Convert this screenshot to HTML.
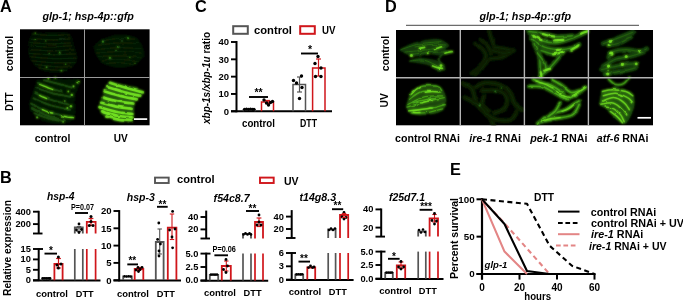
<!DOCTYPE html>
<html><head><meta charset="utf-8"><title>Figure</title>
<style>
html,body{margin:0;padding:0;background:#fff;}
svg{display:block;font-family:"Liberation Sans",Arial,sans-serif;}
</style></head><body>
<svg width="683" height="300" viewBox="0 0 683 300">
<defs>
<filter id="b1" x="-5%" y="-5%" width="110%" height="110%"><feTurbulence type="fractalNoise" baseFrequency="0.12" numOctaves="2" seed="3" result="n"/><feDisplacementMap in="SourceGraphic" in2="n" scale="2.5" xChannelSelector="R" yChannelSelector="G" result="d"/><feGaussianBlur in="d" stdDeviation="0.8"/></filter>
<filter id="b0" x="-5%" y="-5%" width="110%" height="110%"><feTurbulence type="fractalNoise" baseFrequency="0.12" numOctaves="2" seed="3" result="n"/><feDisplacementMap in="SourceGraphic" in2="n" scale="2.5" xChannelSelector="R" yChannelSelector="G" result="d"/><feGaussianBlur in="d" stdDeviation="0.4"/></filter>
</defs>
<rect x="0" y="0" width="683" height="300" fill="#fff"/>
<text x="0" y="11.8" font-size="16.3" text-anchor="start" font-weight="bold" font-style="normal" fill="#000" >A</text>
<text x="88.2" y="19.9" font-size="10.6" text-anchor="middle" font-weight="bold" font-style="italic" fill="#000" textLength="91.5" lengthAdjust="spacingAndGlyphs" >glp-1; hsp-4p::gfp</text>
<rect x="20" y="29.3" width="129.6" height="96" fill="#000"/>
<clipPath id="clipA"><rect x="20" y="29.3" width="129.6" height="96"/></clipPath>
<defs><g id="gA">
<path d="M30.1 34.8 C33.3 34.4 42.9 32.3 49.2 32.2 C55.6 32.1 64.0 31.3 68.3 33.9 C72.6 36.5 73.8 43.5 75.2 47.8 C76.7 52.2 77.8 56.5 77.0 60.0 C76.1 63.4 74.1 66.5 70.0 68.6 C66.0 70.8 57.9 73.0 52.7 73.0 C47.5 73.0 42.6 71.1 38.8 68.6 C35.1 66.2 32.0 62.0 30.1 58.2 C28.3 54.5 28.0 48.1 27.5 46.1 Z" fill="#051202" opacity="0.9"/>
<path d="M31.9 33.9 C34.9 34.2 44.0 35.3 50.1 35.4 C56.2 35.6 65.3 34.9 68.3 34.8" fill="none" stroke="#12320a" stroke-width="1.0" stroke-linecap="round" stroke-linejoin="round" opacity="0.9"/>
<path d="M31.0 38.3 C34.3 38.5 44.0 39.6 50.5 39.8 C57.0 39.9 66.8 39.2 70.0 39.1" fill="none" stroke="#12320a" stroke-width="1.0" stroke-linecap="round" stroke-linejoin="round" opacity="0.9"/>
<path d="M30.1 42.6 C33.5 42.8 43.4 43.8 50.1 43.8 C56.7 43.9 66.7 43.1 70.0 43.0" fill="none" stroke="#12320a" stroke-width="1.0" stroke-linecap="round" stroke-linejoin="round" opacity="0.9"/>
<path d="M30.1 46.1 C33.6 46.2 44.0 47.0 51.0 46.9 C57.9 46.9 68.3 45.9 71.8 45.7" fill="none" stroke="#12320a" stroke-width="1.0" stroke-linecap="round" stroke-linejoin="round" opacity="0.9"/>
<path d="M29.3 49.6 C33.0 49.8 44.0 50.7 51.4 50.8 C58.8 50.8 69.8 50.0 73.5 49.9" fill="none" stroke="#12320a" stroke-width="1.0" stroke-linecap="round" stroke-linejoin="round" opacity="0.9"/>
<path d="M29.3 53.4 C33.1 53.6 44.6 54.6 52.3 54.7 C59.9 54.8 71.4 54.0 75.2 53.9" fill="none" stroke="#12320a" stroke-width="1.0" stroke-linecap="round" stroke-linejoin="round" opacity="0.9"/>
<path d="M30.1 56.8 C34.0 57.1 45.5 58.3 53.1 58.6 C60.8 58.8 72.3 58.3 76.1 58.2" fill="none" stroke="#12320a" stroke-width="1.0" stroke-linecap="round" stroke-linejoin="round" opacity="0.9"/>
<path d="M31.9 60.8 C35.5 61.1 46.3 62.4 53.6 62.7 C60.8 63.0 71.6 62.6 75.2 62.6" fill="none" stroke="#12320a" stroke-width="1.0" stroke-linecap="round" stroke-linejoin="round" opacity="0.9"/>
<path d="M35.3 64.3 C38.4 64.7 47.5 66.2 53.6 66.6 C59.6 67.1 68.7 66.9 71.8 66.9" fill="none" stroke="#12320a" stroke-width="1.0" stroke-linecap="round" stroke-linejoin="round" opacity="0.9"/>
<path d="M38.8 67.8 C41.3 68.2 48.6 69.7 53.6 70.1 C58.5 70.5 65.8 70.3 68.3 70.4" fill="none" stroke="#12320a" stroke-width="1.0" stroke-linecap="round" stroke-linejoin="round" opacity="0.9"/>
<circle cx="35.3" cy="39.1" r="1.0" fill="#378a14"/>
<circle cx="35.3" cy="33.1" r="0.8" fill="#378a14"/>
<circle cx="59.6" cy="53.4" r="0.9" fill="#378a14"/>
<circle cx="46.6" cy="67.2" r="0.9" fill="#378a14"/>
<circle cx="61.4" cy="70.7" r="1.0" fill="#378a14"/>
<circle cx="45.8" cy="40.9" r="0.7" fill="#378a14"/>
<circle cx="65.7" cy="64.3" r="0.7" fill="#378a14"/>
<circle cx="49.2" cy="53.4" r="0.6" fill="#378a14"/>
<path d="M93.4 46.1 C94.9 44.9 98.0 41.0 102.1 39.1 C106.1 37.3 112.5 35.2 117.7 34.8 C122.9 34.4 129.3 34.7 133.3 36.5 C137.4 38.4 140.2 42.9 142.0 46.1 C143.7 49.3 144.9 52.6 143.7 55.6 C142.6 58.7 139.4 62.3 135.0 64.3 C130.7 66.3 123.2 68.1 117.7 67.8 C112.2 67.5 105.8 65.0 102.1 62.6 C98.3 60.1 96.3 54.6 95.1 53.0 Z" fill="#061503" opacity="0.9"/>
<path d="M102.1 40.9 C104.7 40.5 112.5 38.9 117.7 38.6 C122.9 38.3 130.7 39.1 133.3 39.1" fill="none" stroke="#10300a" stroke-width="0.9" stroke-linecap="round" stroke-linejoin="round" opacity="0.9"/>
<path d="M98.6 45.2 C101.9 44.8 111.9 43.2 118.6 43.0 C125.2 42.7 135.2 43.4 138.5 43.5" fill="none" stroke="#10300a" stroke-width="0.9" stroke-linecap="round" stroke-linejoin="round" opacity="0.9"/>
<path d="M96.9 49.6 C100.6 49.2 111.6 47.9 119.0 47.7 C126.4 47.6 137.4 48.5 141.1 48.7" fill="none" stroke="#10300a" stroke-width="0.9" stroke-linecap="round" stroke-linejoin="round" opacity="0.9"/>
<path d="M96.9 53.0 C100.6 52.8 111.9 51.6 119.4 51.6 C126.9 51.6 138.2 52.8 142.0 53.0" fill="none" stroke="#10300a" stroke-width="0.9" stroke-linecap="round" stroke-linejoin="round" opacity="0.9"/>
<path d="M98.6 56.5 C102.2 56.4 112.8 55.6 119.9 55.8 C126.9 56.0 137.6 57.5 141.1 57.9" fill="none" stroke="#10300a" stroke-width="0.9" stroke-linecap="round" stroke-linejoin="round" opacity="0.9"/>
<path d="M102.1 60.0 C105.1 59.9 114.2 59.1 120.3 59.4 C126.4 59.7 135.5 61.3 138.5 61.7" fill="none" stroke="#10300a" stroke-width="0.9" stroke-linecap="round" stroke-linejoin="round" opacity="0.9"/>
<path d="M107.3 63.4 C109.5 63.3 116.0 62.5 120.3 62.7 C124.6 63.0 131.1 64.5 133.3 64.8" fill="none" stroke="#10300a" stroke-width="0.9" stroke-linecap="round" stroke-linejoin="round" opacity="0.9"/>
<circle cx="102.9" cy="41.7" r="1.1" fill="#378a14"/>
<circle cx="128.1" cy="38.3" r="1.0" fill="#378a14"/>
<circle cx="109.9" cy="57.9" r="1.1" fill="#378a14"/>
<circle cx="117.7" cy="46.9" r="0.8" fill="#378a14"/>
<circle cx="122.0" cy="40.9" r="0.7" fill="#378a14"/>
<circle cx="129.8" cy="57.4" r="0.7" fill="#378a14"/>
<circle cx="135.0" cy="63.4" r="0.6" fill="#378a14"/>
<circle cx="116.0" cy="50.4" r="0.7" fill="#378a14"/>
<path d="M37.1 80.2 C40.6 79.9 51.0 78.5 57.9 78.5 C64.8 78.5 75.8 77.3 78.7 80.2 C81.6 83.1 75.8 90.9 75.2 95.8 C74.7 100.7 76.1 105.4 75.2 109.7 C74.4 114.0 74.4 119.7 70.0 121.8 C65.7 124.0 55.6 124.4 49.2 122.7 C42.9 121.0 35.1 115.0 31.9 111.4 C28.7 107.8 29.7 104.8 30.1 101.0 C30.6 97.3 33.8 90.9 34.5 88.9 Z" fill="#061603" opacity="0.9"/>
<path d="M37.9 82.8 C39.8 83.7 45.3 86.6 49.2 88.0 C53.1 89.5 59.3 90.9 61.4 91.5" fill="none" stroke="#1f540d" stroke-width="2.0" stroke-linecap="round" stroke-linejoin="round" opacity="0.9"/>
<path d="M35.3 93.2 C37.7 94.2 43.7 97.4 49.2 99.3 C54.7 101.2 65.1 103.6 68.3 104.5" fill="none" stroke="#1f540d" stroke-width="2.0" stroke-linecap="round" stroke-linejoin="round" opacity="0.9"/>
<path d="M31.0 103.6 C34.0 105.1 42.1 110.0 49.2 112.3 C56.3 114.6 69.5 116.6 73.5 117.5" fill="none" stroke="#1f540d" stroke-width="2.0" stroke-linecap="round" stroke-linejoin="round" opacity="0.9"/>
<path d="M34.5 113.2 C36.4 113.9 41.9 116.3 45.8 117.5 C49.7 118.7 55.9 120.0 57.9 120.4" fill="none" stroke="#1f540d" stroke-width="2.0" stroke-linecap="round" stroke-linejoin="round" opacity="0.9"/>
<path d="M44.0 80.2 C46.3 80.8 53.0 82.4 57.9 83.7 C62.8 85.0 70.9 87.3 73.5 88.0" fill="none" stroke="#1f540d" stroke-width="2.0" stroke-linecap="round" stroke-linejoin="round" opacity="0.9"/>
<path d="M37.1 88.0 C39.7 88.9 47.2 91.8 52.7 93.2 C58.2 94.7 67.1 96.1 70.0 96.7" fill="none" stroke="#1f540d" stroke-width="2.0" stroke-linecap="round" stroke-linejoin="round" opacity="0.9"/>
<path d="M33.6 98.4 C36.5 99.6 44.9 103.5 51.0 105.4 C57.0 107.2 66.9 109.0 70.0 109.7" fill="none" stroke="#1f540d" stroke-width="2.0" stroke-linecap="round" stroke-linejoin="round" opacity="0.9"/>
<path d="M31.9 108.0 C34.5 109.3 42.0 113.7 47.5 115.8 C53.0 117.8 61.9 119.7 64.8 120.4" fill="none" stroke="#1f540d" stroke-width="2.0" stroke-linecap="round" stroke-linejoin="round" opacity="0.9"/>
<path d="M39.7 84.5 C40.8 85.0 44.5 86.3 46.6 87.1 C48.8 88.0 51.7 89.3 52.7 89.7" fill="none" stroke="#78ee22" stroke-width="1.3" stroke-linecap="round" stroke-linejoin="round" opacity="1"/>
<path d="M39.7 95.5 C40.3 95.8 42.0 96.7 43.2 97.2 C44.3 97.7 46.0 98.4 46.6 98.6" fill="none" stroke="#78ee22" stroke-width="1.3" stroke-linecap="round" stroke-linejoin="round" opacity="1"/>
<path d="M42.3 109.7 C43.2 110.0 45.8 111.2 47.5 111.8 C49.2 112.4 51.8 112.9 52.7 113.2" fill="none" stroke="#78ee22" stroke-width="1.3" stroke-linecap="round" stroke-linejoin="round" opacity="1"/>
<path d="M61.4 115.9 C62.4 116.1 65.4 116.9 67.4 117.2 C69.5 117.4 72.5 117.6 73.5 117.7" fill="none" stroke="#78ee22" stroke-width="1.3" stroke-linecap="round" stroke-linejoin="round" opacity="1"/>
<circle cx="77.8" cy="82.3" r="1.3" fill="#62cf1c"/>
<circle cx="73.5" cy="86.3" r="1.0" fill="#62cf1c"/>
<circle cx="71.8" cy="94.9" r="1.2" fill="#62cf1c"/>
<circle cx="70.9" cy="106.2" r="1.2" fill="#62cf1c"/>
<circle cx="67.4" cy="108.0" r="1.0" fill="#62cf1c"/>
<circle cx="37.1" cy="117.5" r="1.0" fill="#62cf1c"/>
<circle cx="63.1" cy="121.8" r="0.9" fill="#62cf1c"/>
<circle cx="48.4" cy="78.5" r="0.9" fill="#62cf1c"/>
<circle cx="55.3" cy="77.6" r="0.9" fill="#62cf1c"/>
<circle cx="68.3" cy="91.5" r="0.9" fill="#62cf1c"/>
<circle cx="64.8" cy="101.0" r="0.8" fill="#62cf1c"/>
<path d="M109.0 81.9 C111.9 82.5 120.7 83.8 126.4 85.4 C132.0 87.0 141.4 88.9 142.8 91.5 C144.3 94.1 136.8 96.5 135.0 101.0 C133.3 105.5 135.3 115.0 132.4 118.4 C129.5 121.7 122.5 121.4 117.7 121.0 C112.9 120.5 106.9 118.1 103.8 115.8 C100.8 113.5 99.6 110.7 99.5 107.1 C99.3 103.5 102.4 96.2 102.9 94.1 Z" fill="#18420a" opacity="0.9"/>
<path d="M109.9 82.8 C112.6 83.7 120.9 86.4 126.4 88.0 C131.9 89.6 140.1 91.6 142.8 92.3" fill="none" stroke="#78ee22" stroke-width="2.7" stroke-linecap="round" stroke-linejoin="round" opacity="1"/>
<path d="M107.3 87.1 C110.2 88.0 119.1 90.9 124.6 92.3 C130.1 93.8 137.6 95.2 140.2 95.8" fill="none" stroke="#78ee22" stroke-width="2.7" stroke-linecap="round" stroke-linejoin="round" opacity="1"/>
<path d="M104.7 91.5 C107.4 92.3 115.8 94.9 121.2 96.2 C126.5 97.5 134.2 98.8 136.8 99.3" fill="none" stroke="#78ee22" stroke-width="2.7" stroke-linecap="round" stroke-linejoin="round" opacity="1"/>
<path d="M102.9 97.6 C105.4 98.2 112.6 100.4 117.7 101.4 C122.8 102.4 130.7 103.2 133.3 103.6" fill="none" stroke="#78ee22" stroke-width="2.7" stroke-linecap="round" stroke-linejoin="round" opacity="1"/>
<path d="M101.2 102.8 C103.7 103.4 110.9 105.6 116.0 106.6 C121.0 107.6 129.0 108.5 131.6 108.8" fill="none" stroke="#78ee22" stroke-width="2.7" stroke-linecap="round" stroke-linejoin="round" opacity="1"/>
<path d="M99.5 107.1 C102.2 107.9 110.5 110.6 116.0 111.8 C121.5 112.9 129.7 113.7 132.4 114.0" fill="none" stroke="#78ee22" stroke-width="2.7" stroke-linecap="round" stroke-linejoin="round" opacity="1"/>
<path d="M102.1 111.4 C104.7 112.2 112.6 114.8 117.7 115.8 C122.8 116.8 130.0 117.2 132.4 117.5" fill="none" stroke="#78ee22" stroke-width="2.7" stroke-linecap="round" stroke-linejoin="round" opacity="1"/>
<path d="M106.4 116.6 C108.6 117.2 115.2 119.0 119.4 119.8 C123.6 120.5 129.5 120.8 131.6 121.0" fill="none" stroke="#78ee22" stroke-width="2.7" stroke-linecap="round" stroke-linejoin="round" opacity="1"/>
</g></defs><g clip-path="url(#clipA)"><use href="#gA" filter="url(#b1)"/><use href="#gA" filter="url(#b0)" opacity="0.5"/></g>
<line x1="84.5" y1="29.3" x2="84.5" y2="125.3" stroke="#9a9a9a" stroke-width="1" />
<line x1="20" y1="77.5" x2="149.5" y2="77.5" stroke="#9a9a9a" stroke-width="1" />
<line x1="134" y1="119.1" x2="147.2" y2="119.1" stroke="#fff" stroke-width="1.7" />
<text x="12.6" y="53.6" font-size="10.6" text-anchor="middle" font-weight="bold" font-style="normal" fill="#000" textLength="35.3" lengthAdjust="spacingAndGlyphs" transform="rotate(-90 12.6 53.6)" >control</text>
<text x="12.9" y="101.8" font-size="10.8" text-anchor="middle" font-weight="bold" font-style="normal" fill="#000" textLength="18.6" lengthAdjust="spacingAndGlyphs" transform="rotate(-90 12.9 101.8)" >DTT</text>
<text x="52.6" y="141.8" font-size="10.6" text-anchor="middle" font-weight="bold" font-style="normal" fill="#000" textLength="35.7" lengthAdjust="spacingAndGlyphs" >control</text>
<text x="120.8" y="141.9" font-size="10.6" text-anchor="middle" font-weight="bold" font-style="normal" fill="#000" textLength="14" lengthAdjust="spacingAndGlyphs" >UV</text>
<text x="195" y="11.8" font-size="16.3" text-anchor="start" font-weight="bold" font-style="normal" fill="#000" >C</text>
<rect x="233.2" y="26.2" width="14.6" height="7.6" fill="none" stroke="#555555" stroke-width="2.0"/>
<text x="254" y="34" font-size="11.2" text-anchor="start" font-weight="bold" font-style="normal" fill="#000" textLength="38" lengthAdjust="spacingAndGlyphs" >control</text>
<rect x="300.2" y="26.2" width="14.6" height="7.6" fill="none" stroke="#d0161b" stroke-width="2.0"/>
<text x="322" y="34" font-size="11.2" text-anchor="start" font-weight="bold" font-style="normal" fill="#000" textLength="13.5" lengthAdjust="spacingAndGlyphs" >UV</text>
<text x="210" y="78" font-size="10" font-weight="bold" text-anchor="middle" transform="rotate(-90 210 78)" textLength="92" lengthAdjust="spacingAndGlyphs"><tspan font-style="italic">xbp-1s/xbp-1u</tspan> ratio</text>
<line x1="236.5" y1="41" x2="236.5" y2="112.3" stroke="#000000" stroke-width="2.0" />
<line x1="231" y1="111.3" x2="236.5" y2="111.3" stroke="#000000" stroke-width="1.9" />
<text x="229" y="114.7" font-size="9.5" text-anchor="end" font-weight="bold" font-style="normal" fill="#000" >0</text>
<line x1="231" y1="93.975" x2="236.5" y2="93.975" stroke="#000000" stroke-width="1.9" />
<text x="229" y="97.375" font-size="9.5" text-anchor="end" font-weight="bold" font-style="normal" fill="#000" >10</text>
<line x1="231" y1="76.65" x2="236.5" y2="76.65" stroke="#000000" stroke-width="1.9" />
<text x="229" y="80.05000000000001" font-size="9.5" text-anchor="end" font-weight="bold" font-style="normal" fill="#000" >20</text>
<line x1="231" y1="59.325" x2="236.5" y2="59.325" stroke="#000000" stroke-width="1.9" />
<text x="229" y="62.725" font-size="9.5" text-anchor="end" font-weight="bold" font-style="normal" fill="#000" >30</text>
<line x1="231" y1="42.0" x2="236.5" y2="42.0" stroke="#000000" stroke-width="1.9" />
<text x="229" y="45.4" font-size="9.5" text-anchor="end" font-weight="bold" font-style="normal" fill="#000" >40</text>
<line x1="231" y1="111.3" x2="332" y2="111.3" stroke="#000000" stroke-width="2.0" />
<path d="M243.5 111.3 V110 H255 V111.3" fill="none" stroke="#555555" stroke-width="1.5"/>
<path d="M261.5 111.3 V102 H273.5 V111.3" fill="none" stroke="#d0161b" stroke-width="1.5"/>
<path d="M293 111.3 V84.5 H305.5 V111.3" fill="none" stroke="#555555" stroke-width="1.5"/>
<path d="M312.6 111.3 V68 H325 V111.3" fill="none" stroke="#d0161b" stroke-width="1.5"/>
<line x1="267.5" y1="100.5" x2="267.5" y2="103.5" stroke="#d0161b" stroke-width="1.2" />
<line x1="265.0" y1="100.5" x2="270.0" y2="100.5" stroke="#d0161b" stroke-width="1.2" />
<line x1="265.0" y1="103.5" x2="270.0" y2="103.5" stroke="#d0161b" stroke-width="1.2" />
<line x1="299.5" y1="77" x2="299.5" y2="92" stroke="#555555" stroke-width="1.2" />
<line x1="297.0" y1="77" x2="302.0" y2="77" stroke="#555555" stroke-width="1.2" />
<line x1="297.0" y1="92" x2="302.0" y2="92" stroke="#555555" stroke-width="1.2" />
<line x1="318.5" y1="59" x2="318.5" y2="76" stroke="#d0161b" stroke-width="1.2" />
<line x1="316.0" y1="59" x2="321.0" y2="59" stroke="#d0161b" stroke-width="1.2" />
<line x1="316.0" y1="76" x2="321.0" y2="76" stroke="#d0161b" stroke-width="1.2" />
<circle cx="244.5" cy="109.3" r="1.6" fill="#000000"/>
<circle cx="246.5" cy="109.2" r="1.6" fill="#000000"/>
<circle cx="248.5" cy="109.3" r="1.6" fill="#000000"/>
<circle cx="250.5" cy="109.2" r="1.6" fill="#000000"/>
<circle cx="252.5" cy="109.3" r="1.6" fill="#000000"/>
<circle cx="254" cy="109.3" r="1.6" fill="#000000"/>
<circle cx="264" cy="100" r="1.7" fill="#000000"/>
<circle cx="266.5" cy="103" r="1.7" fill="#000000"/>
<circle cx="268.5" cy="105" r="1.7" fill="#000000"/>
<circle cx="270.5" cy="102.5" r="1.7" fill="#000000"/>
<circle cx="272.5" cy="101.5" r="1.7" fill="#000000"/>
<circle cx="293.5" cy="80.5" r="1.7" fill="#000000"/>
<circle cx="296.5" cy="83" r="1.7" fill="#000000"/>
<circle cx="301.5" cy="76" r="1.7" fill="#000000"/>
<circle cx="302" cy="87.5" r="1.7" fill="#000000"/>
<circle cx="299.5" cy="98.5" r="1.7" fill="#000000"/>
<circle cx="318" cy="56.5" r="1.7" fill="#000000"/>
<circle cx="315" cy="63.5" r="1.7" fill="#000000"/>
<circle cx="321" cy="68" r="1.7" fill="#000000"/>
<circle cx="315.5" cy="76.5" r="1.7" fill="#000000"/>
<circle cx="321" cy="76.5" r="1.7" fill="#000000"/>
<line x1="249" y1="97" x2="268" y2="97" stroke="#000000" stroke-width="1.9" />
<text x="258.5" y="96.2" font-size="10.5" text-anchor="middle" font-weight="bold" font-style="normal" fill="#000" >**</text>
<line x1="301" y1="53.5" x2="318" y2="53.5" stroke="#000000" stroke-width="1.9" />
<text x="310" y="53.2" font-size="10.5" text-anchor="middle" font-weight="bold" font-style="normal" fill="#000" >*</text>
<text x="258.5" y="127" font-size="10.3" text-anchor="middle" font-weight="bold" font-style="normal" fill="#000" textLength="33" lengthAdjust="spacingAndGlyphs" >control</text>
<text x="308.5" y="127" font-size="10.3" text-anchor="middle" font-weight="bold" font-style="normal" fill="#000" textLength="17" lengthAdjust="spacingAndGlyphs" >DTT</text>
<text x="385" y="11.7" font-size="16.3" text-anchor="start" font-weight="bold" font-style="normal" fill="#000" >D</text>
<text x="525.3" y="19.9" font-size="10.6" text-anchor="middle" font-weight="bold" font-style="italic" fill="#000" textLength="91.5" lengthAdjust="spacingAndGlyphs" >glp-1; hsp-4p::gfp</text>
<line x1="406" y1="25.3" x2="639" y2="25.3" stroke="#333" stroke-width="0.9" />
<rect x="396" y="30" width="257" height="95.3" fill="#000"/>
<clipPath id="clipD"><rect x="396" y="30" width="257" height="95.3"/></clipPath>
<defs><g id="gD">
<path d="M399.0 50.0 C401.7 48.7 408.7 44.2 415.0 42.4 C421.3 40.6 431.3 38.6 437.0 39.0 C442.7 39.4 447.6 43.2 449.0 45.0 C450.4 46.8 444.6 48.4 445.4 49.6 C446.2 50.8 454.7 51.1 454.0 52.0 C453.3 52.9 445.2 54.8 441.0 55.2 C436.8 55.6 433.3 54.0 429.0 54.2 C424.7 54.4 418.5 56.3 415.0 56.4 C411.5 56.5 409.2 55.2 408.0 55.0 Z" fill="#133809" opacity="0.95"/>
<path d="M408.0 61.4 C409.8 60.8 414.5 58.2 419.0 58.0 C423.5 57.8 431.0 58.9 435.0 60.0 C439.0 61.1 441.3 62.7 443.0 64.4 C444.7 66.1 446.3 69.0 445.4 70.0 C444.5 71.0 440.1 71.3 437.4 70.6 C434.7 69.9 432.7 66.9 429.0 65.6 C425.3 64.3 417.3 63.1 415.0 62.6 Z" fill="#133809" opacity="0.95"/>
<path d="M401.0 49.6 C404.0 48.7 412.3 45.3 419.0 44.0 C425.7 42.7 437.3 42.0 441.0 41.6" fill="none" stroke="#2d7512" stroke-width="1.0" stroke-linecap="round" stroke-linejoin="round" opacity="1"/>
<path d="M405.0 52.0 C408.3 51.7 418.3 50.8 425.0 50.0 C431.7 49.2 441.7 47.5 445.0 47.0" fill="none" stroke="#2d7512" stroke-width="1.0" stroke-linecap="round" stroke-linejoin="round" opacity="1"/>
<path d="M411.0 54.4 C414.3 54.1 424.2 52.8 431.0 52.4 C437.8 52.0 448.5 52.1 452.0 52.0" fill="none" stroke="#2d7512" stroke-width="1.0" stroke-linecap="round" stroke-linejoin="round" opacity="1"/>
<path d="M410.0 61.0 C412.5 60.9 419.5 59.1 425.0 60.4 C430.5 61.7 440.0 67.6 443.0 69.0" fill="none" stroke="#2d7512" stroke-width="1.0" stroke-linecap="round" stroke-linejoin="round" opacity="1"/>
<path d="M415.0 47.0 C417.7 46.6 425.8 44.7 431.0 44.4 C436.2 44.1 443.5 44.9 446.0 45.0" fill="none" stroke="#2d7512" stroke-width="1.0" stroke-linecap="round" stroke-linejoin="round" opacity="1"/>
<path d="M419.4 48.2 C419.8 48.1 421.1 47.9 422.0 47.8 C422.9 47.7 424.2 47.5 424.6 47.4" fill="none" stroke="#78ee22" stroke-width="1.7" stroke-linecap="round" stroke-linejoin="round" opacity="1"/>
<path d="M434.6 49.4 C435.2 49.2 436.9 48.4 438.0 48.0 C439.1 47.6 440.8 47.0 441.4 46.8" fill="none" stroke="#78ee22" stroke-width="1.7" stroke-linecap="round" stroke-linejoin="round" opacity="1"/>
<path d="M445.0 53.2 C445.6 53.0 447.4 52.5 448.6 52.2 C449.8 51.9 451.6 51.7 452.2 51.6" fill="none" stroke="#78ee22" stroke-width="1.7" stroke-linecap="round" stroke-linejoin="round" opacity="1"/>
<path d="M432.6 66.0 C433.4 66.3 435.8 67.2 437.4 67.6 C439.0 68.0 441.6 68.3 442.4 68.4" fill="none" stroke="#78ee22" stroke-width="1.7" stroke-linecap="round" stroke-linejoin="round" opacity="1"/>
<path d="M442.0 54.8 C441.4 55.6 438.3 57.7 438.6 59.6 C438.9 61.5 443.1 65.3 444.0 66.4" fill="none" stroke="#1c4d0c" stroke-width="1.8" stroke-linecap="round" stroke-linejoin="round" opacity="1"/>
<circle cx="411.4" cy="55.6" r="1.5" fill="#7df024"/>
<circle cx="427.8" cy="53.2" r="1.0" fill="#7df024"/>
<circle cx="441.0" cy="65.6" r="1.4" fill="#7df024"/>
<path d="M406.1 107.1 C406.9 104.9 407.9 97.7 410.5 94.1 C413.1 90.5 417.3 86.9 421.8 85.4 C426.2 84.0 433.6 84.3 437.4 85.4 C441.1 86.6 442.9 89.2 444.3 92.3 C445.8 95.5 446.9 101.2 446.0 104.5 C445.2 107.8 443.1 110.5 439.1 112.3 C435.1 114.1 426.5 115.1 421.8 115.2 C417.0 115.4 412.4 113.5 410.5 113.2 Z" fill="#1a480b" opacity="0.95"/>
<path d="M410.5 94.9 C412.1 93.6 415.5 88.2 420.0 86.8 C424.5 85.4 433.8 85.6 437.4 86.3 C441.0 86.9 441.0 89.9 441.7 90.6" fill="none" stroke="#4fb518" stroke-width="1.3" stroke-linecap="round" stroke-linejoin="round" opacity="1"/>
<path d="M409.6 99.3 C411.6 98.0 416.6 92.6 421.8 91.5 C427.0 90.3 437.7 92.2 440.8 92.3" fill="none" stroke="#4fb518" stroke-width="1.3" stroke-linecap="round" stroke-linejoin="round" opacity="1"/>
<path d="M407.9 104.5 C410.8 103.2 419.4 98.1 425.2 96.7 C431.0 95.2 439.7 96.0 442.6 95.8" fill="none" stroke="#4fb518" stroke-width="1.3" stroke-linecap="round" stroke-linejoin="round" opacity="1"/>
<path d="M407.0 107.1 C410.6 106.1 422.5 102.6 428.7 101.0 C434.9 99.4 441.7 98.1 444.3 97.6" fill="none" stroke="#4fb518" stroke-width="1.3" stroke-linecap="round" stroke-linejoin="round" opacity="1"/>
<path d="M408.7 110.6 C412.6 110.1 426.1 109.0 432.2 108.0 C438.2 106.9 443.0 105.1 445.2 104.5" fill="none" stroke="#4fb518" stroke-width="1.3" stroke-linecap="round" stroke-linejoin="round" opacity="1"/>
<path d="M411.3 113.2 C414.2 113.0 423.5 113.0 428.7 112.3 C433.9 111.6 440.3 109.4 442.6 108.8" fill="none" stroke="#4fb518" stroke-width="1.3" stroke-linecap="round" stroke-linejoin="round" opacity="1"/>
<path d="M413.1 102.8 C415.4 102.2 422.6 100.0 427.0 99.3 C431.3 98.6 437.1 98.6 439.1 98.4" fill="none" stroke="#4fb518" stroke-width="1.3" stroke-linecap="round" stroke-linejoin="round" opacity="1"/>
<path d="M411.3 94.1 C412.1 93.4 414.2 90.9 415.7 89.7 C417.1 88.6 419.3 87.6 420.0 87.1" fill="none" stroke="#78ee22" stroke-width="1.4" stroke-linecap="round" stroke-linejoin="round" opacity="1"/>
<path d="M408.7 110.9 C410.6 110.7 416.1 110.2 420.0 109.7 C423.9 109.2 430.1 108.2 432.2 108.0" fill="none" stroke="#78ee22" stroke-width="1.4" stroke-linecap="round" stroke-linejoin="round" opacity="1"/>
<path d="M421.8 102.8 C422.6 102.5 425.2 101.7 427.0 101.4 C428.7 101.0 431.3 100.8 432.2 100.7" fill="none" stroke="#78ee22" stroke-width="1.4" stroke-linecap="round" stroke-linejoin="round" opacity="1"/>
<path d="M413.1 112.3 C413.7 112.4 415.4 112.6 416.6 112.6 C417.7 112.7 419.4 112.5 420.0 112.5" fill="none" stroke="#78ee22" stroke-width="1.4" stroke-linecap="round" stroke-linejoin="round" opacity="1"/>
<path d="M425.2 92.3 C426.4 92.2 429.9 91.5 432.2 91.5 C434.5 91.4 437.9 91.9 439.1 92.0" fill="none" stroke="#78ee22" stroke-width="1.4" stroke-linecap="round" stroke-linejoin="round" opacity="1"/>
<path d="M489.2 31.5 C489.7 32.9 491.0 37.5 491.8 40.1 C492.7 42.7 494.0 45.9 494.4 47.1" fill="none" stroke="#081b04" stroke-width="4.6" stroke-linecap="round" stroke-linejoin="round" opacity="0.95"/>
<path d="M489.2 31.5 C489.7 32.9 491.0 37.5 491.8 40.1 C492.7 42.7 494.0 45.9 494.4 47.1" fill="none" stroke="#11300a" stroke-width="1.0" stroke-linecap="round" stroke-linejoin="round" opacity="0.95"/>
<path d="M475.3 43.6 C476.5 44.5 480.6 46.8 482.3 48.8 C484.0 50.8 486.0 52.9 485.8 55.8 C485.5 58.6 482.9 63.3 480.6 66.2 C478.2 69.1 473.3 71.9 471.9 73.1" fill="none" stroke="#081b04" stroke-width="4.6" stroke-linecap="round" stroke-linejoin="round" opacity="0.95"/>
<path d="M475.3 43.6 C476.5 44.5 480.6 46.8 482.3 48.8 C484.0 50.8 486.0 52.9 485.8 55.8 C485.5 58.6 482.9 63.3 480.6 66.2 C478.2 69.1 473.3 71.9 471.9 73.1" fill="none" stroke="#11300a" stroke-width="1.0" stroke-linecap="round" stroke-linejoin="round" opacity="0.95"/>
<path d="M494.4 47.1 C496.2 47.4 501.7 48.2 504.8 48.8 C508.0 49.4 512.1 50.3 513.5 50.6" fill="none" stroke="#081b04" stroke-width="4.6" stroke-linecap="round" stroke-linejoin="round" opacity="0.95"/>
<path d="M494.4 47.1 C496.2 47.4 501.7 48.2 504.8 48.8 C508.0 49.4 512.1 50.3 513.5 50.6" fill="none" stroke="#11300a" stroke-width="1.0" stroke-linecap="round" stroke-linejoin="round" opacity="0.95"/>
<path d="M513.5 50.6 C511.5 51.7 505.4 56.0 501.4 57.5 C497.3 58.9 492.7 57.5 489.2 59.2 C485.8 61.0 483.4 65.5 480.6 67.9 C477.7 70.3 473.3 72.5 471.9 73.4" fill="none" stroke="#081b04" stroke-width="4.6" stroke-linecap="round" stroke-linejoin="round" opacity="0.95"/>
<path d="M513.5 50.6 C511.5 51.7 505.4 56.0 501.4 57.5 C497.3 58.9 492.7 57.5 489.2 59.2 C485.8 61.0 483.4 65.5 480.6 67.9 C477.7 70.3 473.3 72.5 471.9 73.4" fill="none" stroke="#11300a" stroke-width="1.0" stroke-linecap="round" stroke-linejoin="round" opacity="0.95"/>
<path d="M480.6 39.3 C481.9 40.6 486.6 44.6 488.4 47.1 C490.1 49.5 490.5 52.9 491.0 54.0" fill="none" stroke="#081b04" stroke-width="4.6" stroke-linecap="round" stroke-linejoin="round" opacity="0.95"/>
<path d="M480.6 39.3 C481.9 40.6 486.6 44.6 488.4 47.1 C490.1 49.5 490.5 52.9 491.0 54.0" fill="none" stroke="#11300a" stroke-width="1.0" stroke-linecap="round" stroke-linejoin="round" opacity="0.95"/>
<path d="M492.7 50.6 C494.4 51.0 500.2 52.9 503.1 53.2 C506.0 53.4 508.9 52.4 510.0 52.3" fill="none" stroke="#081b04" stroke-width="4.6" stroke-linecap="round" stroke-linejoin="round" opacity="0.95"/>
<path d="M492.7 50.6 C494.4 51.0 500.2 52.9 503.1 53.2 C506.0 53.4 508.9 52.4 510.0 52.3" fill="none" stroke="#11300a" stroke-width="1.0" stroke-linecap="round" stroke-linejoin="round" opacity="0.95"/>
<path d="M487.5 61.0 C486.3 62.4 482.6 67.5 480.6 69.6 C478.5 71.8 476.2 73.2 475.3 74.0" fill="none" stroke="#081b04" stroke-width="4.6" stroke-linecap="round" stroke-linejoin="round" opacity="0.95"/>
<path d="M487.5 61.0 C486.3 62.4 482.6 67.5 480.6 69.6 C478.5 71.8 476.2 73.2 475.3 74.0" fill="none" stroke="#11300a" stroke-width="1.0" stroke-linecap="round" stroke-linejoin="round" opacity="0.95"/>
<path d="M463.2 83.7 C464.6 84.5 469.6 85.4 471.9 88.9 C474.2 92.3 474.2 99.9 477.1 104.5 C480.0 109.1 486.6 113.5 489.2 116.6 C491.8 119.8 492.1 122.4 492.7 123.6" fill="none" stroke="#091d04" stroke-width="5.0" stroke-linecap="round" stroke-linejoin="round" opacity="0.95"/>
<path d="M463.2 83.7 C464.6 84.5 469.6 85.4 471.9 88.9 C474.2 92.3 474.2 99.9 477.1 104.5 C480.0 109.1 486.6 113.5 489.2 116.6 C491.8 119.8 492.1 122.4 492.7 123.6" fill="none" stroke="#12330a" stroke-width="1.0" stroke-linecap="round" stroke-linejoin="round" opacity="0.95"/>
<path d="M475.3 87.1 C477.1 86.4 481.4 83.1 485.8 82.8 C490.1 82.5 497.3 83.8 501.4 85.4 C505.4 87.0 507.7 89.2 510.0 92.3 C512.4 95.5 513.2 101.6 515.2 104.5 C517.3 107.4 521.0 108.8 522.2 109.7" fill="none" stroke="#091d04" stroke-width="5.0" stroke-linecap="round" stroke-linejoin="round" opacity="0.95"/>
<path d="M475.3 87.1 C477.1 86.4 481.4 83.1 485.8 82.8 C490.1 82.5 497.3 83.8 501.4 85.4 C505.4 87.0 507.7 89.2 510.0 92.3 C512.4 95.5 513.2 101.6 515.2 104.5 C517.3 107.4 521.0 108.8 522.2 109.7" fill="none" stroke="#12330a" stroke-width="1.0" stroke-linecap="round" stroke-linejoin="round" opacity="0.95"/>
<path d="M482.3 90.6 C484.9 90.6 493.9 89.5 497.9 90.6 C501.9 91.8 505.4 94.7 506.6 97.6 C507.7 100.4 506.9 105.4 504.8 108.0 C502.8 110.6 496.2 112.3 494.4 113.2" fill="none" stroke="#091d04" stroke-width="5.0" stroke-linecap="round" stroke-linejoin="round" opacity="0.95"/>
<path d="M482.3 90.6 C484.9 90.6 493.9 89.5 497.9 90.6 C501.9 91.8 505.4 94.7 506.6 97.6 C507.7 100.4 506.9 105.4 504.8 108.0 C502.8 110.6 496.2 112.3 494.4 113.2" fill="none" stroke="#12330a" stroke-width="1.0" stroke-linecap="round" stroke-linejoin="round" opacity="0.95"/>
<path d="M484.0 95.8 C483.7 97.3 481.4 101.9 482.3 104.5 C483.2 107.1 488.1 110.3 489.2 111.4" fill="none" stroke="#091d04" stroke-width="5.0" stroke-linecap="round" stroke-linejoin="round" opacity="0.95"/>
<path d="M484.0 95.8 C483.7 97.3 481.4 101.9 482.3 104.5 C483.2 107.1 488.1 110.3 489.2 111.4" fill="none" stroke="#12330a" stroke-width="1.0" stroke-linecap="round" stroke-linejoin="round" opacity="0.95"/>
<path d="M464.9 97.6 C467.3 98.9 474.2 101.9 478.8 105.4 C483.4 108.8 487.5 115.9 492.7 118.4 C497.9 120.8 506.0 121.3 510.0 120.1 C514.1 118.9 515.8 112.9 517.0 111.4" fill="none" stroke="#091d04" stroke-width="5.0" stroke-linecap="round" stroke-linejoin="round" opacity="0.95"/>
<path d="M464.9 97.6 C467.3 98.9 474.2 101.9 478.8 105.4 C483.4 108.8 487.5 115.9 492.7 118.4 C497.9 120.8 506.0 121.3 510.0 120.1 C514.1 118.9 515.8 112.9 517.0 111.4" fill="none" stroke="#12330a" stroke-width="1.0" stroke-linecap="round" stroke-linejoin="round" opacity="0.95"/>
<circle cx="479.7" cy="105.4" r="1.0" fill="#2f7a12"/>
<circle cx="495.3" cy="91.5" r="0.9" fill="#2f7a12"/>
<circle cx="501.4" cy="88.0" r="0.7" fill="#2f7a12"/>
<path d="M531.5 34.9 C533.4 36.0 538.6 39.7 542.8 41.0 C547.0 42.3 551.5 43.3 556.7 42.7 C561.9 42.2 569.0 39.4 574.0 37.5 C579.1 35.7 584.9 32.5 587.1 31.5" fill="none" stroke="#1c4d0c" stroke-width="4.6" stroke-linecap="round" stroke-linejoin="round" opacity="1"/>
<path d="M531.5 34.9 C533.4 36.0 538.6 39.7 542.8 41.0 C547.0 42.3 551.5 43.3 556.7 42.7 C561.9 42.2 569.0 39.4 574.0 37.5 C579.1 35.7 584.9 32.5 587.1 31.5" fill="none" stroke="#3c9716" stroke-width="1.4" stroke-linecap="round" stroke-linejoin="round" opacity="1"/>
<path d="M532.4 39.3 C534.4 40.6 539.9 45.3 544.6 47.1 C549.2 48.8 555.5 49.5 560.2 49.7 C564.8 49.8 569.1 48.8 572.3 47.9 C575.5 47.1 578.1 45.1 579.2 44.5" fill="none" stroke="#1c4d0c" stroke-width="4.6" stroke-linecap="round" stroke-linejoin="round" opacity="1"/>
<path d="M532.4 39.3 C534.4 40.6 539.9 45.3 544.6 47.1 C549.2 48.8 555.5 49.5 560.2 49.7 C564.8 49.8 569.1 48.8 572.3 47.9 C575.5 47.1 578.1 45.1 579.2 44.5" fill="none" stroke="#3c9716" stroke-width="1.4" stroke-linecap="round" stroke-linejoin="round" opacity="1"/>
<path d="M534.1 43.6 C535.0 45.6 538.3 51.7 539.3 55.8 C540.4 59.8 539.9 64.4 540.2 67.9 C540.5 71.4 540.9 75.1 541.1 76.6" fill="none" stroke="#1c4d0c" stroke-width="4.6" stroke-linecap="round" stroke-linejoin="round" opacity="1"/>
<path d="M534.1 43.6 C535.0 45.6 538.3 51.7 539.3 55.8 C540.4 59.8 539.9 64.4 540.2 67.9 C540.5 71.4 540.9 75.1 541.1 76.6" fill="none" stroke="#3c9716" stroke-width="1.4" stroke-linecap="round" stroke-linejoin="round" opacity="1"/>
<path d="M561.9 54.0 C559.9 56.3 553.1 64.4 549.8 67.9 C546.4 71.4 543.2 73.7 541.9 74.8" fill="none" stroke="#1c4d0c" stroke-width="4.6" stroke-linecap="round" stroke-linejoin="round" opacity="1"/>
<path d="M561.9 54.0 C559.9 56.3 553.1 64.4 549.8 67.9 C546.4 71.4 543.2 73.7 541.9 74.8" fill="none" stroke="#3c9716" stroke-width="1.4" stroke-linecap="round" stroke-linejoin="round" opacity="1"/>
<path d="M528.9 31.5 C531.0 31.8 536.5 32.3 541.1 33.2 C545.7 34.1 551.5 36.2 556.7 36.7 C561.9 37.1 569.7 36.0 572.3 35.8" fill="none" stroke="#1c4d0c" stroke-width="4.6" stroke-linecap="round" stroke-linejoin="round" opacity="1"/>
<path d="M528.9 31.5 C531.0 31.8 536.5 32.3 541.1 33.2 C545.7 34.1 551.5 36.2 556.7 36.7 C561.9 37.1 569.7 36.0 572.3 35.8" fill="none" stroke="#3c9716" stroke-width="1.4" stroke-linecap="round" stroke-linejoin="round" opacity="1"/>
<path d="M541.1 50.6 C543.1 51.1 549.5 53.7 553.2 54.0 C557.0 54.3 561.9 52.6 563.6 52.3" fill="none" stroke="#1c4d0c" stroke-width="4.6" stroke-linecap="round" stroke-linejoin="round" opacity="1"/>
<path d="M541.1 50.6 C543.1 51.1 549.5 53.7 553.2 54.0 C557.0 54.3 561.9 52.6 563.6 52.3" fill="none" stroke="#3c9716" stroke-width="1.4" stroke-linecap="round" stroke-linejoin="round" opacity="1"/>
<path d="M536.7 52.3 C538.0 54.0 543.0 59.8 544.6 62.7 C546.1 65.6 546.0 68.5 546.3 69.6" fill="none" stroke="#1c4d0c" stroke-width="4.6" stroke-linecap="round" stroke-linejoin="round" opacity="1"/>
<path d="M536.7 52.3 C538.0 54.0 543.0 59.8 544.6 62.7 C546.1 65.6 546.0 68.5 546.3 69.6" fill="none" stroke="#3c9716" stroke-width="1.4" stroke-linecap="round" stroke-linejoin="round" opacity="1"/>
<path d="M533.3 35.8 C534.0 36.2 536.3 37.3 537.6 38.1 C539.0 38.8 540.8 39.8 541.4 40.1" fill="none" stroke="#78ee22" stroke-width="2.2" stroke-linecap="round" stroke-linejoin="round" opacity="1"/>
<path d="M542.8 34.1 C543.8 34.4 546.9 35.4 548.9 35.8 C550.9 36.2 553.9 36.5 555.0 36.7" fill="none" stroke="#78ee22" stroke-width="2.2" stroke-linecap="round" stroke-linejoin="round" opacity="1"/>
<path d="M554.1 40.5 C554.8 40.4 556.9 40.3 558.4 40.1 C560.0 40.0 562.5 39.9 563.3 39.8" fill="none" stroke="#78ee22" stroke-width="2.2" stroke-linecap="round" stroke-linejoin="round" opacity="1"/>
<path d="M581.0 33.6 C581.5 33.3 583.0 32.7 584.1 32.3 C585.2 31.9 587.0 31.3 587.6 31.1" fill="none" stroke="#78ee22" stroke-width="2.2" stroke-linecap="round" stroke-linejoin="round" opacity="1"/>
<path d="M553.2 54.4 C554.1 54.2 556.7 53.7 558.4 53.3 C560.2 52.9 562.8 52.2 563.6 51.9" fill="none" stroke="#78ee22" stroke-width="2.2" stroke-linecap="round" stroke-linejoin="round" opacity="1"/>
<path d="M556.7 50.0 C557.0 50.0 558.0 49.9 558.8 49.9 C559.5 49.8 560.8 49.6 561.2 49.5" fill="none" stroke="#78ee22" stroke-width="2.2" stroke-linecap="round" stroke-linejoin="round" opacity="1"/>
<path d="M571.4 49.7 C572.0 49.4 573.8 48.7 574.9 47.9 C576.1 47.2 577.8 45.8 578.4 45.3" fill="none" stroke="#78ee22" stroke-width="2.2" stroke-linecap="round" stroke-linejoin="round" opacity="1"/>
<path d="M544.2 70.7 C544.7 70.5 546.2 69.9 547.2 69.6 C548.1 69.3 549.6 69.1 550.1 68.9" fill="none" stroke="#78ee22" stroke-width="2.2" stroke-linecap="round" stroke-linejoin="round" opacity="1"/>
<path d="M540.7 72.2 C540.8 72.6 541.0 73.7 541.1 74.5 C541.2 75.3 541.4 76.5 541.4 76.9" fill="none" stroke="#78ee22" stroke-width="2.2" stroke-linecap="round" stroke-linejoin="round" opacity="1"/>
<path d="M533.3 79.3 C535.2 80.1 540.6 81.8 544.6 83.7 C548.5 85.6 552.9 88.3 556.7 90.6 C560.5 92.9 564.2 96.7 567.1 97.6 C570.0 98.4 570.9 97.6 574.0 95.8 C577.2 94.1 584.2 88.6 586.2 87.1" fill="none" stroke="#235c0f" stroke-width="4.0" stroke-linecap="round" stroke-linejoin="round" opacity="1"/>
<path d="M533.3 79.3 C535.2 80.1 540.6 81.8 544.6 83.7 C548.5 85.6 552.9 88.3 556.7 90.6 C560.5 92.9 564.2 96.7 567.1 97.6 C570.0 98.4 570.9 97.6 574.0 95.8 C577.2 94.1 584.2 88.6 586.2 87.1" fill="none" stroke="#4fb518" stroke-width="1.6" stroke-linecap="round" stroke-linejoin="round" opacity="1"/>
<path d="M528.9 86.3 C531.3 86.4 538.2 85.8 542.8 87.1 C547.4 88.4 552.6 92.1 556.7 94.1 C560.7 96.1 565.4 98.4 567.1 99.3" fill="none" stroke="#235c0f" stroke-width="4.0" stroke-linecap="round" stroke-linejoin="round" opacity="1"/>
<path d="M528.9 86.3 C531.3 86.4 538.2 85.8 542.8 87.1 C547.4 88.4 552.6 92.1 556.7 94.1 C560.7 96.1 565.4 98.4 567.1 99.3" fill="none" stroke="#4fb518" stroke-width="1.6" stroke-linecap="round" stroke-linejoin="round" opacity="1"/>
<path d="M551.5 79.3 C553.2 80.3 558.7 83.2 561.9 85.4 C565.1 87.6 567.7 91.5 570.6 92.3 C573.5 93.2 577.8 90.9 579.2 90.6" fill="none" stroke="#235c0f" stroke-width="4.0" stroke-linecap="round" stroke-linejoin="round" opacity="1"/>
<path d="M551.5 79.3 C553.2 80.3 558.7 83.2 561.9 85.4 C565.1 87.6 567.7 91.5 570.6 92.3 C573.5 93.2 577.8 90.9 579.2 90.6" fill="none" stroke="#4fb518" stroke-width="1.6" stroke-linecap="round" stroke-linejoin="round" opacity="1"/>
<path d="M537.6 123.6 C539.6 122.1 545.1 117.2 549.8 114.9 C554.4 112.6 561.0 111.7 565.4 109.7 C569.7 107.7 573.3 104.2 575.8 102.8 C578.2 101.3 579.4 101.3 580.1 101.0" fill="none" stroke="#235c0f" stroke-width="4.0" stroke-linecap="round" stroke-linejoin="round" opacity="1"/>
<path d="M537.6 123.6 C539.6 122.1 545.1 117.2 549.8 114.9 C554.4 112.6 561.0 111.7 565.4 109.7 C569.7 107.7 573.3 104.2 575.8 102.8 C578.2 101.3 579.4 101.3 580.1 101.0" fill="none" stroke="#4fb518" stroke-width="1.6" stroke-linecap="round" stroke-linejoin="round" opacity="1"/>
<path d="M541.1 121.8 C543.7 121.3 551.5 119.5 556.7 118.4 C561.9 117.2 568.5 117.2 572.3 114.9 C576.1 112.6 578.1 106.2 579.2 104.5" fill="none" stroke="#235c0f" stroke-width="4.0" stroke-linecap="round" stroke-linejoin="round" opacity="1"/>
<path d="M541.1 121.8 C543.7 121.3 551.5 119.5 556.7 118.4 C561.9 117.2 568.5 117.2 572.3 114.9 C576.1 112.6 578.1 106.2 579.2 104.5" fill="none" stroke="#4fb518" stroke-width="1.6" stroke-linecap="round" stroke-linejoin="round" opacity="1"/>
<path d="M560.2 102.8 C559.3 104.2 557.0 109.1 555.0 111.4 C552.9 113.7 549.2 115.8 548.0 116.6" fill="none" stroke="#235c0f" stroke-width="4.0" stroke-linecap="round" stroke-linejoin="round" opacity="1"/>
<path d="M560.2 102.8 C559.3 104.2 557.0 109.1 555.0 111.4 C552.9 113.7 549.2 115.8 548.0 116.6" fill="none" stroke="#4fb518" stroke-width="1.6" stroke-linecap="round" stroke-linejoin="round" opacity="1"/>
<path d="M539.3 82.8 C541.4 83.2 547.4 83.7 551.5 85.4 C555.5 87.1 561.6 91.9 563.6 93.2" fill="none" stroke="#235c0f" stroke-width="4.0" stroke-linecap="round" stroke-linejoin="round" opacity="1"/>
<path d="M539.3 82.8 C541.4 83.2 547.4 83.7 551.5 85.4 C555.5 87.1 561.6 91.9 563.6 93.2" fill="none" stroke="#4fb518" stroke-width="1.6" stroke-linecap="round" stroke-linejoin="round" opacity="1"/>
<path d="M535.9 81.1 C537.3 81.6 541.7 82.9 544.6 84.0 C547.4 85.2 551.8 87.3 553.2 88.0" fill="none" stroke="#78ee22" stroke-width="1.3" stroke-linecap="round" stroke-linejoin="round" opacity="1"/>
<path d="M556.7 91.5 C557.9 92.2 561.6 94.9 563.6 95.8 C565.7 96.8 568.0 97.0 568.8 97.2" fill="none" stroke="#78ee22" stroke-width="1.3" stroke-linecap="round" stroke-linejoin="round" opacity="1"/>
<path d="M572.3 95.8 C573.5 95.1 577.1 92.9 579.2 91.5 C581.4 90.1 584.3 88.2 585.3 87.5" fill="none" stroke="#78ee22" stroke-width="1.3" stroke-linecap="round" stroke-linejoin="round" opacity="1"/>
<path d="M561.9 111.4 C563.1 111.0 566.7 110.1 568.8 108.8 C571.0 107.5 573.9 104.5 574.9 103.6" fill="none" stroke="#78ee22" stroke-width="1.3" stroke-linecap="round" stroke-linejoin="round" opacity="1"/>
<path d="M542.8 121.0 C544.3 120.5 548.6 118.9 551.5 118.4 C554.4 117.8 558.7 117.6 560.2 117.5" fill="none" stroke="#78ee22" stroke-width="1.3" stroke-linecap="round" stroke-linejoin="round" opacity="1"/>
<path d="M603.3 43.6 C605.7 42.7 612.3 40.3 617.2 38.4 C622.1 36.5 630.2 33.3 632.8 32.3" fill="none" stroke="#15400a" stroke-width="4.8" stroke-linecap="round" stroke-linejoin="round" opacity="0.95"/>
<path d="M603.3 43.6 C605.7 42.7 612.3 40.3 617.2 38.4 C622.1 36.5 630.2 33.3 632.8 32.3" fill="none" stroke="#2a6e10" stroke-width="1.2" stroke-linecap="round" stroke-linejoin="round" opacity="0.95"/>
<path d="M608.6 57.5 C609.1 56.6 609.1 53.6 612.0 52.3 C614.9 51.0 621.3 49.8 625.9 49.7 C630.5 49.5 636.3 51.6 639.8 51.4 C643.2 51.3 645.6 49.2 646.7 48.8" fill="none" stroke="#15400a" stroke-width="4.8" stroke-linecap="round" stroke-linejoin="round" opacity="0.95"/>
<path d="M608.6 57.5 C609.1 56.6 609.1 53.6 612.0 52.3 C614.9 51.0 621.3 49.8 625.9 49.7 C630.5 49.5 636.3 51.6 639.8 51.4 C643.2 51.3 645.6 49.2 646.7 48.8" fill="none" stroke="#2a6e10" stroke-width="1.2" stroke-linecap="round" stroke-linejoin="round" opacity="0.95"/>
<path d="M603.3 66.2 C605.4 65.0 611.2 60.8 615.5 59.2 C619.8 57.6 624.7 57.8 629.4 56.6 C634.0 55.5 640.9 53.0 643.2 52.3" fill="none" stroke="#15400a" stroke-width="4.8" stroke-linecap="round" stroke-linejoin="round" opacity="0.95"/>
<path d="M603.3 66.2 C605.4 65.0 611.2 60.8 615.5 59.2 C619.8 57.6 624.7 57.8 629.4 56.6 C634.0 55.5 640.9 53.0 643.2 52.3" fill="none" stroke="#2a6e10" stroke-width="1.2" stroke-linecap="round" stroke-linejoin="round" opacity="0.95"/>
<path d="M601.6 69.6 C604.8 68.9 614.9 66.3 620.7 65.3 C626.5 64.3 633.7 63.9 636.3 63.6" fill="none" stroke="#15400a" stroke-width="4.8" stroke-linecap="round" stroke-linejoin="round" opacity="0.95"/>
<path d="M601.6 69.6 C604.8 68.9 614.9 66.3 620.7 65.3 C626.5 64.3 633.7 63.9 636.3 63.6" fill="none" stroke="#2a6e10" stroke-width="1.2" stroke-linecap="round" stroke-linejoin="round" opacity="0.95"/>
<path d="M605.1 74.0 C607.7 73.5 615.5 72.4 620.7 71.4 C625.9 70.4 633.7 68.5 636.3 67.9" fill="none" stroke="#15400a" stroke-width="4.8" stroke-linecap="round" stroke-linejoin="round" opacity="0.95"/>
<path d="M605.1 74.0 C607.7 73.5 615.5 72.4 620.7 71.4 C625.9 70.4 633.7 68.5 636.3 67.9" fill="none" stroke="#2a6e10" stroke-width="1.2" stroke-linecap="round" stroke-linejoin="round" opacity="0.95"/>
<path d="M608.6 45.3 C610.6 44.9 616.9 44.2 620.7 42.7 C624.5 41.3 629.4 37.7 631.1 36.7" fill="none" stroke="#15400a" stroke-width="4.8" stroke-linecap="round" stroke-linejoin="round" opacity="0.95"/>
<path d="M608.6 45.3 C610.6 44.9 616.9 44.2 620.7 42.7 C624.5 41.3 629.4 37.7 631.1 36.7" fill="none" stroke="#2a6e10" stroke-width="1.2" stroke-linecap="round" stroke-linejoin="round" opacity="0.95"/>
<circle cx="610.3" cy="41.4" r="1.6" fill="#7df024"/>
<circle cx="608.6" cy="45.0" r="1.1" fill="#7df024"/>
<circle cx="611.7" cy="53.2" r="1.6" fill="#7df024"/>
<circle cx="639.8" cy="51.4" r="1.3" fill="#7df024"/>
<circle cx="626.2" cy="56.6" r="1.5" fill="#7df024"/>
<circle cx="608.6" cy="66.2" r="1.6" fill="#7df024"/>
<circle cx="622.4" cy="64.4" r="1.5" fill="#7df024"/>
<circle cx="636.3" cy="63.9" r="1.4" fill="#7df024"/>
<circle cx="607.7" cy="74.0" r="1.6" fill="#7df024"/>
<circle cx="608.6" cy="70.5" r="1.1" fill="#7df024"/>
<path d="M601.6 90.6 C604.2 90.2 612.3 87.7 617.2 88.0 C622.1 88.3 628.2 89.9 631.1 92.3 C634.0 94.8 634.6 99.0 634.6 102.8 C634.6 106.5 632.7 111.4 631.1 114.9 C629.5 118.4 627.3 122.7 625.0 123.6 C622.7 124.4 620.3 122.4 617.2 120.1 C614.2 117.8 609.9 112.3 606.8 109.7 C603.8 107.1 600.3 105.4 599.0 104.5 Z" fill="#1f530d" opacity="0.9"/>
<path d="M608.6 79.3 C609.7 80.2 613.0 83.8 615.5 84.5 C617.9 85.3 621.1 84.7 623.3 83.7 C625.5 82.7 627.6 79.3 628.5 78.5" fill="none" stroke="#245f0f" stroke-width="2.6" stroke-linecap="round" stroke-linejoin="round" opacity="1"/>
<path d="M608.6 79.3 C609.7 80.2 613.0 83.8 615.5 84.5 C617.9 85.3 621.1 84.7 623.3 83.7 C625.5 82.7 627.6 79.3 628.5 78.5" fill="none" stroke="#4fb518" stroke-width="1.2" stroke-linecap="round" stroke-linejoin="round" opacity="1"/>
<path d="M602.5 91.5 C604.1 91.2 608.1 89.7 612.0 89.7 C615.9 89.7 622.4 90.5 625.9 91.5 C629.4 92.5 631.7 95.1 632.8 95.8" fill="none" stroke="#78ee22" stroke-width="1.5" stroke-linecap="round" stroke-linejoin="round" opacity="1"/>
<path d="M603.3 95.8 C605.4 95.4 611.4 92.9 615.5 93.2 C619.5 93.5 624.7 96.0 627.6 97.6 C630.5 99.1 632.0 101.9 632.8 102.8" fill="none" stroke="#78ee22" stroke-width="1.5" stroke-linecap="round" stroke-linejoin="round" opacity="1"/>
<path d="M602.5 101.0 C604.4 100.4 610.1 97.3 613.8 97.6 C617.4 97.8 621.6 100.7 624.2 102.8 C626.8 104.8 628.5 108.5 629.4 109.7" fill="none" stroke="#78ee22" stroke-width="1.5" stroke-linecap="round" stroke-linejoin="round" opacity="1"/>
<path d="M599.9 104.5 C601.9 104.2 608.6 102.2 612.0 102.8 C615.5 103.3 618.2 105.9 620.7 108.0 C623.2 110.0 625.8 113.7 626.8 114.9" fill="none" stroke="#78ee22" stroke-width="1.5" stroke-linecap="round" stroke-linejoin="round" opacity="1"/>
<path d="M605.1 107.1 C606.5 107.4 611.2 107.5 613.8 108.8 C616.4 110.1 619.0 112.7 620.7 114.9 C622.4 117.1 623.6 120.7 624.2 121.8" fill="none" stroke="#78ee22" stroke-width="1.5" stroke-linecap="round" stroke-linejoin="round" opacity="1"/>
<path d="M610.3 111.4 C611.4 112.3 615.2 114.8 617.2 116.6 C619.2 118.5 621.6 121.7 622.4 122.7" fill="none" stroke="#78ee22" stroke-width="1.5" stroke-linecap="round" stroke-linejoin="round" opacity="1"/>
</g></defs><g clip-path="url(#clipD)"><use href="#gD" filter="url(#b1)"/><use href="#gD" filter="url(#b0)" opacity="0.5"/></g>
<line x1="460.3" y1="30" x2="460.3" y2="125.3" stroke="#b4b4b4" stroke-width="1.4" />
<line x1="524.4" y1="30" x2="524.4" y2="125.3" stroke="#b4b4b4" stroke-width="1.4" />
<line x1="588.4" y1="30" x2="588.4" y2="125.3" stroke="#b4b4b4" stroke-width="1.4" />
<line x1="396" y1="77.7" x2="653" y2="77.7" stroke="#b4b4b4" stroke-width="1.4" />
<line x1="637.5" y1="117.8" x2="651" y2="117.8" stroke="#fff" stroke-width="1.7" />
<text x="388.7" y="53.6" font-size="10.6" text-anchor="middle" font-weight="bold" font-style="normal" fill="#000" textLength="35.3" lengthAdjust="spacingAndGlyphs" transform="rotate(-90 388.7 53.6)" >control</text>
<text x="388.5" y="100.2" font-size="10.8" text-anchor="middle" font-weight="bold" font-style="normal" fill="#000" textLength="14.4" lengthAdjust="spacingAndGlyphs" transform="rotate(-90 388.5 100.2)" >UV</text>
<text x="395" y="142.1" font-size="10.4" text-anchor="start" font-weight="bold" font-style="normal" fill="#000" textLength="65" lengthAdjust="spacingAndGlyphs" >control RNAi</text>
<text x="469.3" y="142.1" font-size="10.4" font-weight="bold" textLength="51.7" lengthAdjust="spacingAndGlyphs"><tspan font-style="italic">ire-1</tspan> RNAi</text>
<text x="530.2" y="142.1" font-size="10.4" font-weight="bold" textLength="57.2" lengthAdjust="spacingAndGlyphs"><tspan font-style="italic">pek-1</tspan> RNAi</text>
<text x="596.8" y="142.1" font-size="10.4" font-weight="bold" textLength="51.6" lengthAdjust="spacingAndGlyphs"><tspan font-style="italic">atf-6</tspan> RNAi</text>
<text x="0" y="183.2" font-size="16.3" text-anchor="start" font-weight="bold" font-style="normal" fill="#000" >B</text>
<rect x="155" y="177.6" width="13.7" height="5.4" fill="none" stroke="#555555" stroke-width="1.9"/>
<text x="177" y="183.4" font-size="11" text-anchor="start" font-weight="bold" font-style="normal" fill="#000" textLength="37.6" lengthAdjust="spacingAndGlyphs" >control</text>
<rect x="260" y="177.6" width="13.7" height="5.4" fill="none" stroke="#d0161b" stroke-width="1.9"/>
<text x="284" y="185" font-size="11.4" text-anchor="start" font-weight="bold" font-style="normal" fill="#000" textLength="14.6" lengthAdjust="spacingAndGlyphs" >UV</text>
<text x="10.8" y="248" font-size="10.2" text-anchor="middle" font-weight="bold" font-style="normal" fill="#000" textLength="96" lengthAdjust="spacingAndGlyphs" transform="rotate(-90 10.8 248)" >Relative expression</text>
<text x="47" y="200.2" font-size="10.6" text-anchor="start" font-weight="bold" font-style="italic" fill="#000" textLength="27.5" lengthAdjust="spacingAndGlyphs" >hsp-4</text>
<line x1="38.7" y1="210.79999999999998" x2="38.7" y2="233.5" stroke="#000000" stroke-width="2.0" />
<line x1="33" y1="211.7" x2="38.7" y2="211.7" stroke="#000000" stroke-width="1.9" />
<text x="30.9" y="214.7" font-size="9.3" text-anchor="end" font-weight="bold" font-style="normal" fill="#000" >400</text>
<line x1="33" y1="224.1" x2="38.7" y2="224.1" stroke="#000000" stroke-width="1.9" />
<text x="30.9" y="227.1" font-size="9.3" text-anchor="end" font-weight="bold" font-style="normal" fill="#000" >200</text>
<line x1="33" y1="233.5" x2="42.5" y2="233.5" stroke="#000000" stroke-width="1.9" />
<line x1="38.7" y1="248.1" x2="38.7" y2="281.09999999999997" stroke="#000000" stroke-width="2.0" />
<line x1="33" y1="249" x2="38.7" y2="249" stroke="#000000" stroke-width="1.9" />
<text x="30.9" y="252.0" font-size="9.3" text-anchor="end" font-weight="bold" font-style="normal" fill="#000" >15</text>
<line x1="33" y1="259.4" x2="38.7" y2="259.4" stroke="#000000" stroke-width="1.9" />
<text x="30.9" y="262.4" font-size="9.3" text-anchor="end" font-weight="bold" font-style="normal" fill="#000" >10</text>
<line x1="33" y1="269.8" x2="38.7" y2="269.8" stroke="#000000" stroke-width="1.9" />
<text x="30.9" y="272.8" font-size="9.3" text-anchor="end" font-weight="bold" font-style="normal" fill="#000" >5</text>
<line x1="33" y1="280.2" x2="38.7" y2="280.2" stroke="#000000" stroke-width="1.9" />
<text x="30.9" y="283.2" font-size="9.3" text-anchor="end" font-weight="bold" font-style="normal" fill="#000" >0</text>
<line x1="43" y1="249" x2="38.7" y2="249" stroke="#000000" stroke-width="1.9" />
<line x1="33" y1="280.59999999999997" x2="100.5" y2="280.59999999999997" stroke="#000000" stroke-width="2.0" />
<path d="M42.3 280.2 V278.5 H50.2 V280.2" fill="none" stroke="#555555" stroke-width="1.8"/>
<path d="M54.4 280.2 V264 H62.6 V280.2" fill="none" stroke="#d0161b" stroke-width="1.8"/>
<line x1="74.8" y1="249" x2="74.8" y2="280.2" stroke="#555555" stroke-width="1.7" />
<line x1="82.8" y1="249" x2="82.8" y2="280.2" stroke="#555555" stroke-width="1.7" />
<line x1="86.8" y1="249" x2="86.8" y2="280.2" stroke="#d0161b" stroke-width="1.7" />
<line x1="95.60000000000001" y1="249" x2="95.60000000000001" y2="280.2" stroke="#d0161b" stroke-width="1.7" />
<path d="M74.8 233.5 V227.5 H82.8 V233.5" fill="none" stroke="#555555" stroke-width="1.8"/>
<path d="M86.8 233.5 V221.8 H95.60000000000001 V233.5" fill="none" stroke="#d0161b" stroke-width="1.8"/>
<text x="36" y="296.5" font-size="9.8" text-anchor="start" font-weight="bold" font-style="normal" fill="#000" textLength="32" lengthAdjust="spacingAndGlyphs" >control</text>
<text x="75.8" y="296.5" font-size="9.8" text-anchor="start" font-weight="bold" font-style="normal" fill="#000" textLength="17.8" lengthAdjust="spacingAndGlyphs" >DTT</text>
<line x1="44.5" y1="253.6" x2="57" y2="253.6" stroke="#000000" stroke-width="1.9" />
<text x="51" y="254.4" font-size="10" text-anchor="middle" font-weight="bold" font-style="normal" fill="#000" >*</text>
<text x="82.5" y="209.8" font-size="8.2" text-anchor="middle" font-weight="bold" font-style="normal" fill="#000" textLength="23" lengthAdjust="spacingAndGlyphs" >P=0.07</text>
<line x1="75" y1="213" x2="88" y2="213" stroke="#000000" stroke-width="1.9" />
<line x1="58.5" y1="258.5" x2="58.5" y2="268" stroke="#d0161b" stroke-width="1.2" />
<line x1="56.1" y1="258.5" x2="60.9" y2="258.5" stroke="#d0161b" stroke-width="1.2" />
<line x1="56.1" y1="268" x2="60.9" y2="268" stroke="#d0161b" stroke-width="1.2" />
<line x1="79" y1="226.5" x2="79" y2="231.5" stroke="#555555" stroke-width="1.1" />
<line x1="76.8" y1="226.5" x2="81.2" y2="226.5" stroke="#555555" stroke-width="1.1" />
<line x1="76.8" y1="231.5" x2="81.2" y2="231.5" stroke="#555555" stroke-width="1.1" />
<line x1="91" y1="218.5" x2="91" y2="225.5" stroke="#d0161b" stroke-width="1.2" />
<line x1="88.6" y1="218.5" x2="93.4" y2="218.5" stroke="#d0161b" stroke-width="1.2" />
<line x1="88.6" y1="225.5" x2="93.4" y2="225.5" stroke="#d0161b" stroke-width="1.2" />
<circle cx="42.8" cy="278.4" r="1.4" fill="#000000"/>
<circle cx="44.8" cy="278.3" r="1.4" fill="#000000"/>
<circle cx="46.8" cy="278.4" r="1.4" fill="#000000"/>
<circle cx="48.8" cy="278.3" r="1.4" fill="#000000"/>
<circle cx="50" cy="278.4" r="1.4" fill="#000000"/>
<circle cx="58.4" cy="257" r="1.5" fill="#000000"/>
<circle cx="57" cy="265" r="1.5" fill="#000000"/>
<circle cx="61" cy="264" r="1.5" fill="#000000"/>
<circle cx="58.4" cy="268" r="1.5" fill="#000000"/>
<circle cx="79" cy="224" r="1.4" fill="#000000"/>
<circle cx="76.5" cy="230" r="1.4" fill="#000000"/>
<circle cx="81.5" cy="229.5" r="1.4" fill="#000000"/>
<circle cx="79" cy="232.5" r="1.4" fill="#000000"/>
<circle cx="91" cy="216.5" r="1.5" fill="#000000"/>
<circle cx="91" cy="221.5" r="1.5" fill="#000000"/>
<circle cx="89.3" cy="225.6" r="1.5" fill="#000000"/>
<circle cx="93" cy="225.6" r="1.5" fill="#000000"/>
<text x="126.8" y="201.4" font-size="10.6" text-anchor="start" font-weight="bold" font-style="italic" fill="#000" textLength="28" lengthAdjust="spacingAndGlyphs" >hsp-3</text>
<line x1="119.2" y1="210.1" x2="119.2" y2="281.4" stroke="#000000" stroke-width="2.0" />
<line x1="113.5" y1="280.2" x2="119.2" y2="280.2" stroke="#000000" stroke-width="1.9" />
<text x="111.6" y="283.5" font-size="9.6" text-anchor="end" font-weight="bold" font-style="normal" fill="#000" >0</text>
<line x1="113.5" y1="262.9" x2="119.2" y2="262.9" stroke="#000000" stroke-width="1.9" />
<text x="111.6" y="266.2" font-size="9.6" text-anchor="end" font-weight="bold" font-style="normal" fill="#000" >5</text>
<line x1="113.5" y1="245.6" x2="119.2" y2="245.6" stroke="#000000" stroke-width="1.9" />
<text x="111.6" y="248.9" font-size="9.6" text-anchor="end" font-weight="bold" font-style="normal" fill="#000" >10</text>
<line x1="113.5" y1="228.29999999999998" x2="119.2" y2="228.29999999999998" stroke="#000000" stroke-width="1.9" />
<text x="111.6" y="231.6" font-size="9.6" text-anchor="end" font-weight="bold" font-style="normal" fill="#000" >15</text>
<line x1="113.5" y1="211.0" x2="119.2" y2="211.0" stroke="#000000" stroke-width="1.9" />
<text x="111.6" y="214.3" font-size="9.6" text-anchor="end" font-weight="bold" font-style="normal" fill="#000" >20</text>
<line x1="113.5" y1="280.4" x2="181" y2="280.4" stroke="#000000" stroke-width="2.0" />
<path d="M123.2 280 V276.5 H131.8 V280" fill="none" stroke="#555555" stroke-width="1.8"/>
<path d="M134.7 280 V269 H143.3 V280" fill="none" stroke="#d0161b" stroke-width="1.8"/>
<path d="M155.8 280 V242 H163.6 V280" fill="none" stroke="#555555" stroke-width="1.8"/>
<path d="M167.8 280 V227.6 H176.4 V280" fill="none" stroke="#d0161b" stroke-width="1.8"/>
<line x1="139" y1="267.5" x2="139" y2="270.5" stroke="#d0161b" stroke-width="1.1" />
<line x1="136.8" y1="267.5" x2="141.2" y2="267.5" stroke="#d0161b" stroke-width="1.1" />
<line x1="136.8" y1="270.5" x2="141.2" y2="270.5" stroke="#d0161b" stroke-width="1.1" />
<line x1="159.7" y1="229" x2="159.7" y2="254" stroke="#555555" stroke-width="1.1" />
<line x1="157.5" y1="229" x2="161.89999999999998" y2="229" stroke="#555555" stroke-width="1.1" />
<line x1="157.5" y1="254" x2="161.89999999999998" y2="254" stroke="#555555" stroke-width="1.1" />
<line x1="172" y1="214" x2="172" y2="239.5" stroke="#d0161b" stroke-width="1.1" />
<line x1="169.8" y1="214" x2="174.2" y2="214" stroke="#d0161b" stroke-width="1.1" />
<line x1="169.8" y1="239.5" x2="174.2" y2="239.5" stroke="#d0161b" stroke-width="1.1" />
<circle cx="124.5" cy="276.3" r="1.2" fill="#000000"/>
<circle cx="126.6" cy="276.5" r="1.2" fill="#000000"/>
<circle cx="128.7" cy="276.3" r="1.2" fill="#000000"/>
<circle cx="130.8" cy="276.5" r="1.2" fill="#000000"/>
<circle cx="136" cy="270" r="1.4" fill="#000000"/>
<circle cx="138" cy="267.5" r="1.4" fill="#000000"/>
<circle cx="140" cy="269.5" r="1.4" fill="#000000"/>
<circle cx="142" cy="267.3" r="1.4" fill="#000000"/>
<circle cx="138.5" cy="271.5" r="1.4" fill="#000000"/>
<circle cx="158.8" cy="223" r="1.4" fill="#000000"/>
<circle cx="157.6" cy="239.4" r="1.4" fill="#000000"/>
<circle cx="160.4" cy="244" r="1.4" fill="#000000"/>
<circle cx="159" cy="251" r="1.4" fill="#000000"/>
<circle cx="159" cy="256" r="1.4" fill="#000000"/>
<circle cx="172.6" cy="211.4" r="1.4" fill="#000000"/>
<circle cx="169.6" cy="230" r="1.4" fill="#000000"/>
<circle cx="175" cy="229" r="1.4" fill="#000000"/>
<circle cx="172" cy="237" r="1.4" fill="#000000"/>
<circle cx="172.6" cy="247.8" r="1.4" fill="#000000"/>
<line x1="127.3" y1="264.4" x2="138" y2="264.4" stroke="#000000" stroke-width="1.9" />
<text x="132.3" y="264.4" font-size="10" text-anchor="middle" font-weight="bold" font-style="normal" fill="#000" >**</text>
<line x1="157" y1="206.8" x2="167.7" y2="206.8" stroke="#000000" stroke-width="1.9" />
<text x="162.5" y="207.7" font-size="10" text-anchor="middle" font-weight="bold" font-style="normal" fill="#000" >**</text>
<text x="117" y="296.5" font-size="9.8" text-anchor="start" font-weight="bold" font-style="normal" fill="#000" textLength="32" lengthAdjust="spacingAndGlyphs" >control</text>
<text x="156.8" y="296.5" font-size="9.8" text-anchor="start" font-weight="bold" font-style="normal" fill="#000" textLength="18" lengthAdjust="spacingAndGlyphs" >DTT</text>
<text x="213.6" y="201.6" font-size="10.6" text-anchor="start" font-weight="bold" font-style="italic" fill="#000" textLength="36" lengthAdjust="spacingAndGlyphs" >f54c8.7</text>
<line x1="206.2" y1="210.6" x2="206.2" y2="238.5" stroke="#000000" stroke-width="2.0" />
<line x1="200.5" y1="217" x2="206.2" y2="217" stroke="#000000" stroke-width="1.9" />
<text x="198.4" y="220.0" font-size="9.3" text-anchor="end" font-weight="bold" font-style="normal" fill="#000" >40</text>
<line x1="200.5" y1="229.4" x2="206.2" y2="229.4" stroke="#000000" stroke-width="1.9" />
<text x="198.4" y="232.4" font-size="9.3" text-anchor="end" font-weight="bold" font-style="normal" fill="#000" >20</text>
<line x1="200.5" y1="238.5" x2="210.0" y2="238.5" stroke="#000000" stroke-width="1.9" />
<line x1="206.2" y1="252.7" x2="206.2" y2="281.29999999999995" stroke="#000000" stroke-width="2.0" />
<line x1="200.5" y1="253.6" x2="206.2" y2="253.6" stroke="#000000" stroke-width="1.9" />
<text x="198.4" y="256.6" font-size="9.3" text-anchor="end" font-weight="bold" font-style="normal" fill="#000" >5.0</text>
<line x1="200.5" y1="267" x2="206.2" y2="267" stroke="#000000" stroke-width="1.9" />
<text x="198.4" y="270.0" font-size="9.3" text-anchor="end" font-weight="bold" font-style="normal" fill="#000" >2.5</text>
<line x1="200.5" y1="280.4" x2="206.2" y2="280.4" stroke="#000000" stroke-width="1.9" />
<text x="198.4" y="283.4" font-size="9.3" text-anchor="end" font-weight="bold" font-style="normal" fill="#000" >0.0</text>
<line x1="210.5" y1="253.6" x2="206.2" y2="253.6" stroke="#000000" stroke-width="1.9" />
<line x1="200.5" y1="280.79999999999995" x2="268.2" y2="280.79999999999995" stroke="#000000" stroke-width="2.0" />
<path d="M209.8 280.4 V274.8 H218.2 V280.4" fill="none" stroke="#555555" stroke-width="1.8"/>
<path d="M221.8 280.4 V266 H230.79999999999998 V280.4" fill="none" stroke="#d0161b" stroke-width="1.8"/>
<line x1="243.0" y1="253.6" x2="243.0" y2="280.4" stroke="#555555" stroke-width="1.7" />
<line x1="251.0" y1="253.6" x2="251.0" y2="280.4" stroke="#555555" stroke-width="1.7" />
<line x1="255.0" y1="253.6" x2="255.0" y2="280.4" stroke="#d0161b" stroke-width="1.7" />
<line x1="263.0" y1="253.6" x2="263.0" y2="280.4" stroke="#d0161b" stroke-width="1.7" />
<path d="M243.0 238.5 V234 H251.0 V238.5" fill="none" stroke="#555555" stroke-width="1.8"/>
<path d="M255.0 238.5 V222 H263.0 V238.5" fill="none" stroke="#d0161b" stroke-width="1.8"/>
<text x="204" y="295.8" font-size="9.8" text-anchor="start" font-weight="bold" font-style="normal" fill="#000" textLength="32" lengthAdjust="spacingAndGlyphs" >control</text>
<text x="243.6" y="295.8" font-size="9.8" text-anchor="start" font-weight="bold" font-style="normal" fill="#000" textLength="18" lengthAdjust="spacingAndGlyphs" >DTT</text>
<text x="224.2" y="252.3" font-size="8.3" text-anchor="middle" font-weight="bold" font-style="normal" fill="#000" textLength="23.4" lengthAdjust="spacingAndGlyphs" >P=0.06</text>
<line x1="214.4" y1="255.3" x2="228" y2="255.3" stroke="#000000" stroke-width="1.9" />
<line x1="246" y1="211" x2="259" y2="211" stroke="#000000" stroke-width="1.9" />
<text x="252.4" y="211.9" font-size="10" text-anchor="middle" font-weight="bold" font-style="normal" fill="#000" >**</text>
<line x1="226.3" y1="261" x2="226.3" y2="271" stroke="#d0161b" stroke-width="1.1" />
<line x1="224.10000000000002" y1="261" x2="228.5" y2="261" stroke="#d0161b" stroke-width="1.1" />
<line x1="224.10000000000002" y1="271" x2="228.5" y2="271" stroke="#d0161b" stroke-width="1.1" />
<line x1="259" y1="218" x2="259" y2="226.5" stroke="#d0161b" stroke-width="1.2" />
<line x1="256.6" y1="218" x2="261.4" y2="218" stroke="#d0161b" stroke-width="1.2" />
<line x1="256.6" y1="226.5" x2="261.4" y2="226.5" stroke="#d0161b" stroke-width="1.2" />
<circle cx="226" cy="259.5" r="1.4" fill="#000000"/>
<circle cx="223.5" cy="269.5" r="1.4" fill="#000000"/>
<circle cx="227.5" cy="266" r="1.4" fill="#000000"/>
<circle cx="226" cy="272.5" r="1.4" fill="#000000"/>
<circle cx="243.5" cy="234.5" r="1.3" fill="#000000"/>
<circle cx="245.5" cy="233.2" r="1.3" fill="#000000"/>
<circle cx="247.5" cy="234.5" r="1.3" fill="#000000"/>
<circle cx="249.5" cy="233.4" r="1.3" fill="#000000"/>
<circle cx="251" cy="234.5" r="1.3" fill="#000000"/>
<circle cx="259" cy="215" r="1.4" fill="#000000"/>
<circle cx="257" cy="225" r="1.4" fill="#000000"/>
<circle cx="261" cy="225" r="1.4" fill="#000000"/>
<circle cx="259" cy="222" r="1.4" fill="#000000"/>
<circle cx="211" cy="274.6" r="1.3" fill="#000000"/>
<circle cx="213" cy="274.5" r="1.3" fill="#000000"/>
<circle cx="215" cy="274.6" r="1.3" fill="#000000"/>
<circle cx="217" cy="274.5" r="1.3" fill="#000000"/>
<text x="299.5" y="200.6" font-size="10.6" text-anchor="start" font-weight="bold" font-style="italic" fill="#000" textLength="36.6" lengthAdjust="spacingAndGlyphs" >t14g8.3</text>
<line x1="291.7" y1="210.1" x2="291.7" y2="238" stroke="#000000" stroke-width="2.0" />
<line x1="286" y1="216.6" x2="291.7" y2="216.6" stroke="#000000" stroke-width="1.9" />
<text x="283.9" y="219.6" font-size="9.3" text-anchor="end" font-weight="bold" font-style="normal" fill="#000" >40</text>
<line x1="286" y1="229" x2="291.7" y2="229" stroke="#000000" stroke-width="1.9" />
<text x="283.9" y="232.0" font-size="9.3" text-anchor="end" font-weight="bold" font-style="normal" fill="#000" >20</text>
<line x1="286" y1="238" x2="295.5" y2="238" stroke="#000000" stroke-width="1.9" />
<line x1="291.7" y1="252.1" x2="291.7" y2="280.5" stroke="#000000" stroke-width="2.0" />
<line x1="286" y1="253" x2="291.7" y2="253" stroke="#000000" stroke-width="1.9" />
<text x="283.9" y="256.0" font-size="9.3" text-anchor="end" font-weight="bold" font-style="normal" fill="#000" >6</text>
<line x1="286" y1="266.3" x2="291.7" y2="266.3" stroke="#000000" stroke-width="1.9" />
<text x="283.9" y="269.3" font-size="9.3" text-anchor="end" font-weight="bold" font-style="normal" fill="#000" >3</text>
<line x1="286" y1="279.6" x2="291.7" y2="279.6" stroke="#000000" stroke-width="1.9" />
<text x="283.9" y="282.6" font-size="9.3" text-anchor="end" font-weight="bold" font-style="normal" fill="#000" >0</text>
<line x1="296" y1="253" x2="291.7" y2="253" stroke="#000000" stroke-width="1.9" />
<line x1="286" y1="280.0" x2="353.6" y2="280.0" stroke="#000000" stroke-width="2.0" />
<path d="M295.3 279.6 V274.6 H303.2 V279.6" fill="none" stroke="#555555" stroke-width="1.8"/>
<path d="M307.3 279.6 V267.5 H315.2 V279.6" fill="none" stroke="#d0161b" stroke-width="1.8"/>
<line x1="328.2" y1="253" x2="328.2" y2="279.6" stroke="#555555" stroke-width="1.7" />
<line x1="335.59999999999997" y1="253" x2="335.59999999999997" y2="279.6" stroke="#555555" stroke-width="1.7" />
<line x1="340.0" y1="253" x2="340.0" y2="279.6" stroke="#d0161b" stroke-width="1.7" />
<line x1="348.2" y1="253" x2="348.2" y2="279.6" stroke="#d0161b" stroke-width="1.7" />
<path d="M328.2 238 V229.5 H335.59999999999997 V238" fill="none" stroke="#555555" stroke-width="1.8"/>
<path d="M340.0 238 V215 H348.2 V238" fill="none" stroke="#d0161b" stroke-width="1.8"/>
<text x="288.8" y="295.4" font-size="9.8" text-anchor="start" font-weight="bold" font-style="normal" fill="#000" textLength="32.4" lengthAdjust="spacingAndGlyphs" >control</text>
<text x="328.8" y="295.4" font-size="9.8" text-anchor="start" font-weight="bold" font-style="normal" fill="#000" textLength="18" lengthAdjust="spacingAndGlyphs" >DTT</text>
<line x1="298.5" y1="261.6" x2="310" y2="261.6" stroke="#000000" stroke-width="1.9" />
<text x="304" y="262.4" font-size="10" text-anchor="middle" font-weight="bold" font-style="normal" fill="#000" >**</text>
<line x1="332" y1="209.2" x2="343.2" y2="209.2" stroke="#000000" stroke-width="1.9" />
<text x="337.5" y="209.4" font-size="10" text-anchor="middle" font-weight="bold" font-style="normal" fill="#000" >**</text>
<circle cx="308.5" cy="267.6" r="1.4" fill="#000000"/>
<circle cx="310.5" cy="266" r="1.4" fill="#000000"/>
<circle cx="312.5" cy="267.6" r="1.4" fill="#000000"/>
<circle cx="314" cy="267" r="1.4" fill="#000000"/>
<circle cx="296.5" cy="274.4" r="1.3" fill="#000000"/>
<circle cx="298.5" cy="274.3" r="1.3" fill="#000000"/>
<circle cx="300.5" cy="274.4" r="1.3" fill="#000000"/>
<circle cx="302.2" cy="274.3" r="1.3" fill="#000000"/>
<circle cx="329" cy="230" r="1.3" fill="#000000"/>
<circle cx="331" cy="228.5" r="1.3" fill="#000000"/>
<circle cx="333" cy="230" r="1.3" fill="#000000"/>
<circle cx="335" cy="228.5" r="1.3" fill="#000000"/>
<circle cx="344" cy="212.5" r="1.4" fill="#000000"/>
<circle cx="342" cy="217" r="1.4" fill="#000000"/>
<circle cx="346" cy="217.5" r="1.4" fill="#000000"/>
<circle cx="344" cy="219" r="1.4" fill="#000000"/>
<line x1="344" y1="213.5" x2="344" y2="217.5" stroke="#d0161b" stroke-width="1.1" />
<line x1="341.8" y1="213.5" x2="346.2" y2="213.5" stroke="#d0161b" stroke-width="1.1" />
<line x1="341.8" y1="217.5" x2="346.2" y2="217.5" stroke="#d0161b" stroke-width="1.1" />
<text x="389" y="200.6" font-size="10.6" text-anchor="start" font-weight="bold" font-style="italic" fill="#000" textLength="36" lengthAdjust="spacingAndGlyphs" >f25d7.1</text>
<line x1="381.2" y1="208.5" x2="381.2" y2="236.6" stroke="#000000" stroke-width="2.0" />
<line x1="375.5" y1="209.4" x2="381.2" y2="209.4" stroke="#000000" stroke-width="1.9" />
<text x="373.4" y="212.4" font-size="9.3" text-anchor="end" font-weight="bold" font-style="normal" fill="#000" >40</text>
<line x1="375.5" y1="227.6" x2="381.2" y2="227.6" stroke="#000000" stroke-width="1.9" />
<text x="373.4" y="230.6" font-size="9.3" text-anchor="end" font-weight="bold" font-style="normal" fill="#000" >20</text>
<line x1="375.5" y1="236.6" x2="385.0" y2="236.6" stroke="#000000" stroke-width="1.9" />
<line x1="381.2" y1="250.7" x2="381.2" y2="279.5" stroke="#000000" stroke-width="2.0" />
<line x1="375.5" y1="251.6" x2="381.2" y2="251.6" stroke="#000000" stroke-width="1.9" />
<text x="373.4" y="254.6" font-size="9.3" text-anchor="end" font-weight="bold" font-style="normal" fill="#000" >5.0</text>
<line x1="375.5" y1="265" x2="381.2" y2="265" stroke="#000000" stroke-width="1.9" />
<text x="373.4" y="268.0" font-size="9.3" text-anchor="end" font-weight="bold" font-style="normal" fill="#000" >2.5</text>
<line x1="375.5" y1="278.6" x2="381.2" y2="278.6" stroke="#000000" stroke-width="1.9" />
<text x="373.4" y="281.6" font-size="9.3" text-anchor="end" font-weight="bold" font-style="normal" fill="#000" >0.0</text>
<line x1="385.5" y1="251.6" x2="381.2" y2="251.6" stroke="#000000" stroke-width="1.9" />
<line x1="375.5" y1="279.0" x2="443.5" y2="279.0" stroke="#000000" stroke-width="2.0" />
<path d="M385.2 278.6 V272.8 H392.8 V278.6" fill="none" stroke="#555555" stroke-width="1.8"/>
<path d="M396.8 278.6 V265.4 H405.2 V278.6" fill="none" stroke="#d0161b" stroke-width="1.8"/>
<line x1="418.2" y1="251.6" x2="418.2" y2="278.6" stroke="#555555" stroke-width="1.7" />
<line x1="425.8" y1="251.6" x2="425.8" y2="278.6" stroke="#555555" stroke-width="1.7" />
<line x1="429.6" y1="251.6" x2="429.6" y2="278.6" stroke="#d0161b" stroke-width="1.7" />
<line x1="438.0" y1="251.6" x2="438.0" y2="278.6" stroke="#d0161b" stroke-width="1.7" />
<path d="M418.2 236.6 V231.5 H425.8 V236.6" fill="none" stroke="#555555" stroke-width="1.8"/>
<path d="M429.6 236.6 V218.3 H438.0 V236.6" fill="none" stroke="#d0161b" stroke-width="1.8"/>
<text x="379.2" y="294.0" font-size="9.8" text-anchor="start" font-weight="bold" font-style="normal" fill="#000" textLength="32.4" lengthAdjust="spacingAndGlyphs" >control</text>
<text x="418.8" y="294.0" font-size="9.8" text-anchor="start" font-weight="bold" font-style="normal" fill="#000" textLength="18" lengthAdjust="spacingAndGlyphs" >DTT</text>
<line x1="388" y1="258.8" x2="399.6" y2="258.8" stroke="#000000" stroke-width="1.9" />
<text x="394" y="259.9" font-size="10" text-anchor="middle" font-weight="bold" font-style="normal" fill="#000" >*</text>
<line x1="419.6" y1="209.8" x2="432.4" y2="209.8" stroke="#000000" stroke-width="1.9" />
<text x="426" y="210.2" font-size="10" text-anchor="middle" font-weight="bold" font-style="normal" fill="#000" >***</text>
<line x1="401" y1="262" x2="401" y2="268.5" stroke="#d0161b" stroke-width="1.2" />
<line x1="398.6" y1="262" x2="403.4" y2="262" stroke="#d0161b" stroke-width="1.2" />
<line x1="398.6" y1="268.5" x2="403.4" y2="268.5" stroke="#d0161b" stroke-width="1.2" />
<line x1="434.5" y1="214.5" x2="434.5" y2="222" stroke="#d0161b" stroke-width="1.1" />
<line x1="432.3" y1="214.5" x2="436.7" y2="214.5" stroke="#d0161b" stroke-width="1.1" />
<line x1="432.3" y1="222" x2="436.7" y2="222" stroke="#d0161b" stroke-width="1.1" />
<circle cx="401" cy="261.5" r="1.4" fill="#000000"/>
<circle cx="398.6" cy="267" r="1.4" fill="#000000"/>
<circle cx="403.6" cy="267" r="1.4" fill="#000000"/>
<circle cx="401" cy="269" r="1.4" fill="#000000"/>
<circle cx="386.4" cy="272.6" r="1.3" fill="#000000"/>
<circle cx="388.3" cy="272.5" r="1.3" fill="#000000"/>
<circle cx="390.2" cy="272.6" r="1.3" fill="#000000"/>
<circle cx="392" cy="272.5" r="1.3" fill="#000000"/>
<circle cx="419" cy="230" r="1.3" fill="#000000"/>
<circle cx="421" cy="232.5" r="1.3" fill="#000000"/>
<circle cx="423" cy="229.5" r="1.3" fill="#000000"/>
<circle cx="425" cy="232" r="1.3" fill="#000000"/>
<circle cx="434.5" cy="213.5" r="1.4" fill="#000000"/>
<circle cx="432" cy="220.5" r="1.4" fill="#000000"/>
<circle cx="436.5" cy="221" r="1.4" fill="#000000"/>
<circle cx="434.5" cy="224" r="1.4" fill="#000000"/>
<text x="450" y="174.7" font-size="16.3" text-anchor="start" font-weight="bold" font-style="normal" fill="#000" >E</text>
<text x="458.2" y="238.5" font-size="10.2" text-anchor="middle" font-weight="bold" font-style="normal" fill="#000" textLength="81" lengthAdjust="spacingAndGlyphs" transform="rotate(-90 458.2 238.5)" >Percent survival</text>
<line x1="482" y1="198.2" x2="482" y2="279.6" stroke="#000000" stroke-width="2.2" />
<line x1="476.5" y1="274" x2="595.6" y2="274" stroke="#000000" stroke-width="2.2" />
<line x1="476.5" y1="274.0" x2="482" y2="274.0" stroke="#000000" stroke-width="2.0" />
<text x="474.6" y="277.4" font-size="9.8" text-anchor="end" font-weight="bold" font-style="normal" fill="#000" >0</text>
<line x1="476.5" y1="236.65" x2="482" y2="236.65" stroke="#000000" stroke-width="2.0" />
<text x="474.6" y="240.05" font-size="9.8" text-anchor="end" font-weight="bold" font-style="normal" fill="#000" >50</text>
<line x1="476.5" y1="199.3" x2="482" y2="199.3" stroke="#000000" stroke-width="2.0" />
<text x="474.6" y="202.70000000000002" font-size="9.8" text-anchor="end" font-weight="bold" font-style="normal" fill="#000" >100</text>
<line x1="482.0" y1="274" x2="482.0" y2="279.6" stroke="#000000" stroke-width="2.0" />
<text x="482.0" y="290.8" font-size="10" text-anchor="middle" font-weight="bold" font-style="normal" fill="#000" >0</text>
<line x1="519.5" y1="274" x2="519.5" y2="279.6" stroke="#000000" stroke-width="2.0" />
<text x="519.5" y="290.8" font-size="10" text-anchor="middle" font-weight="bold" font-style="normal" fill="#000" >20</text>
<line x1="557.0" y1="274" x2="557.0" y2="279.6" stroke="#000000" stroke-width="2.0" />
<text x="557.0" y="290.8" font-size="10" text-anchor="middle" font-weight="bold" font-style="normal" fill="#000" >40</text>
<line x1="594.5" y1="274" x2="594.5" y2="279.6" stroke="#000000" stroke-width="2.0" />
<text x="594.5" y="290.8" font-size="10" text-anchor="middle" font-weight="bold" font-style="normal" fill="#000" >60</text>
<text x="537.7" y="299.5" font-size="10" text-anchor="middle" font-weight="bold" font-style="normal" fill="#000" textLength="26.8" lengthAdjust="spacingAndGlyphs" >hours</text>
<text x="484.6" y="268" font-size="9.6" text-anchor="start" font-weight="bold" font-style="italic" fill="#000" textLength="22.8" lengthAdjust="spacingAndGlyphs" >glp-1</text>
<text x="534" y="200.5" font-size="10.6" text-anchor="start" font-weight="bold" font-style="normal" fill="#000" textLength="20" lengthAdjust="spacingAndGlyphs" >DTT</text>
<polyline points="482.0,199.3 504.5,251.6 527.0,274.0" fill="none" stroke="#e38585" stroke-width="2.1" stroke-linejoin="round"/>
<polyline points="482.0,199.3 504.5,223.2 549.5,274.0" fill="none" stroke="#e38585" stroke-width="2.1" stroke-linejoin="round" stroke-dasharray="5 3.5"/>
<polyline points="482.0,199.3 504.5,224.0 527.0,271.0 549.5,274.0" fill="none" stroke="#000000" stroke-width="2.1" stroke-linejoin="round"/>
<polyline points="482.0,199.3 527.0,203.8 549.5,245.6 572.0,265.8 594.5,274.0" fill="none" stroke="#000000" stroke-width="2.1" stroke-linejoin="round" stroke-dasharray="5 3.5"/>
<line x1="558" y1="211.6" x2="579.5" y2="211.6" stroke="#000000" stroke-width="2.0" />
<line x1="558" y1="222.9" x2="579.5" y2="222.9" stroke="#000000" stroke-width="2.0" stroke-dasharray="4.7 2.7"/>
<line x1="558" y1="234.2" x2="579.5" y2="234.2" stroke="#e38585" stroke-width="2.0" />
<line x1="556" y1="245.5" x2="577.5" y2="245.5" stroke="#e38585" stroke-width="2.0" stroke-dasharray="4.7 2.7"/>
<text x="590.7" y="216" font-size="10.4" text-anchor="start" font-weight="bold" font-style="normal" fill="#000" textLength="65.5" lengthAdjust="spacingAndGlyphs" >control RNAi</text>
<text x="591" y="226.7" font-size="10.4" text-anchor="start" font-weight="bold" font-style="normal" fill="#000" textLength="93" lengthAdjust="spacingAndGlyphs" >control RNAi + UV</text>
<text x="591" y="237.8" font-size="10.4" font-weight="bold" textLength="52.3" lengthAdjust="spacingAndGlyphs"><tspan font-style="italic">ire-1</tspan> RNAi</text>
<text x="589" y="249.6" font-size="10.4" font-weight="bold" textLength="77.5" lengthAdjust="spacingAndGlyphs"><tspan font-style="italic">ire-1</tspan> RNAi + UV</text>
</svg>
</body></html>
